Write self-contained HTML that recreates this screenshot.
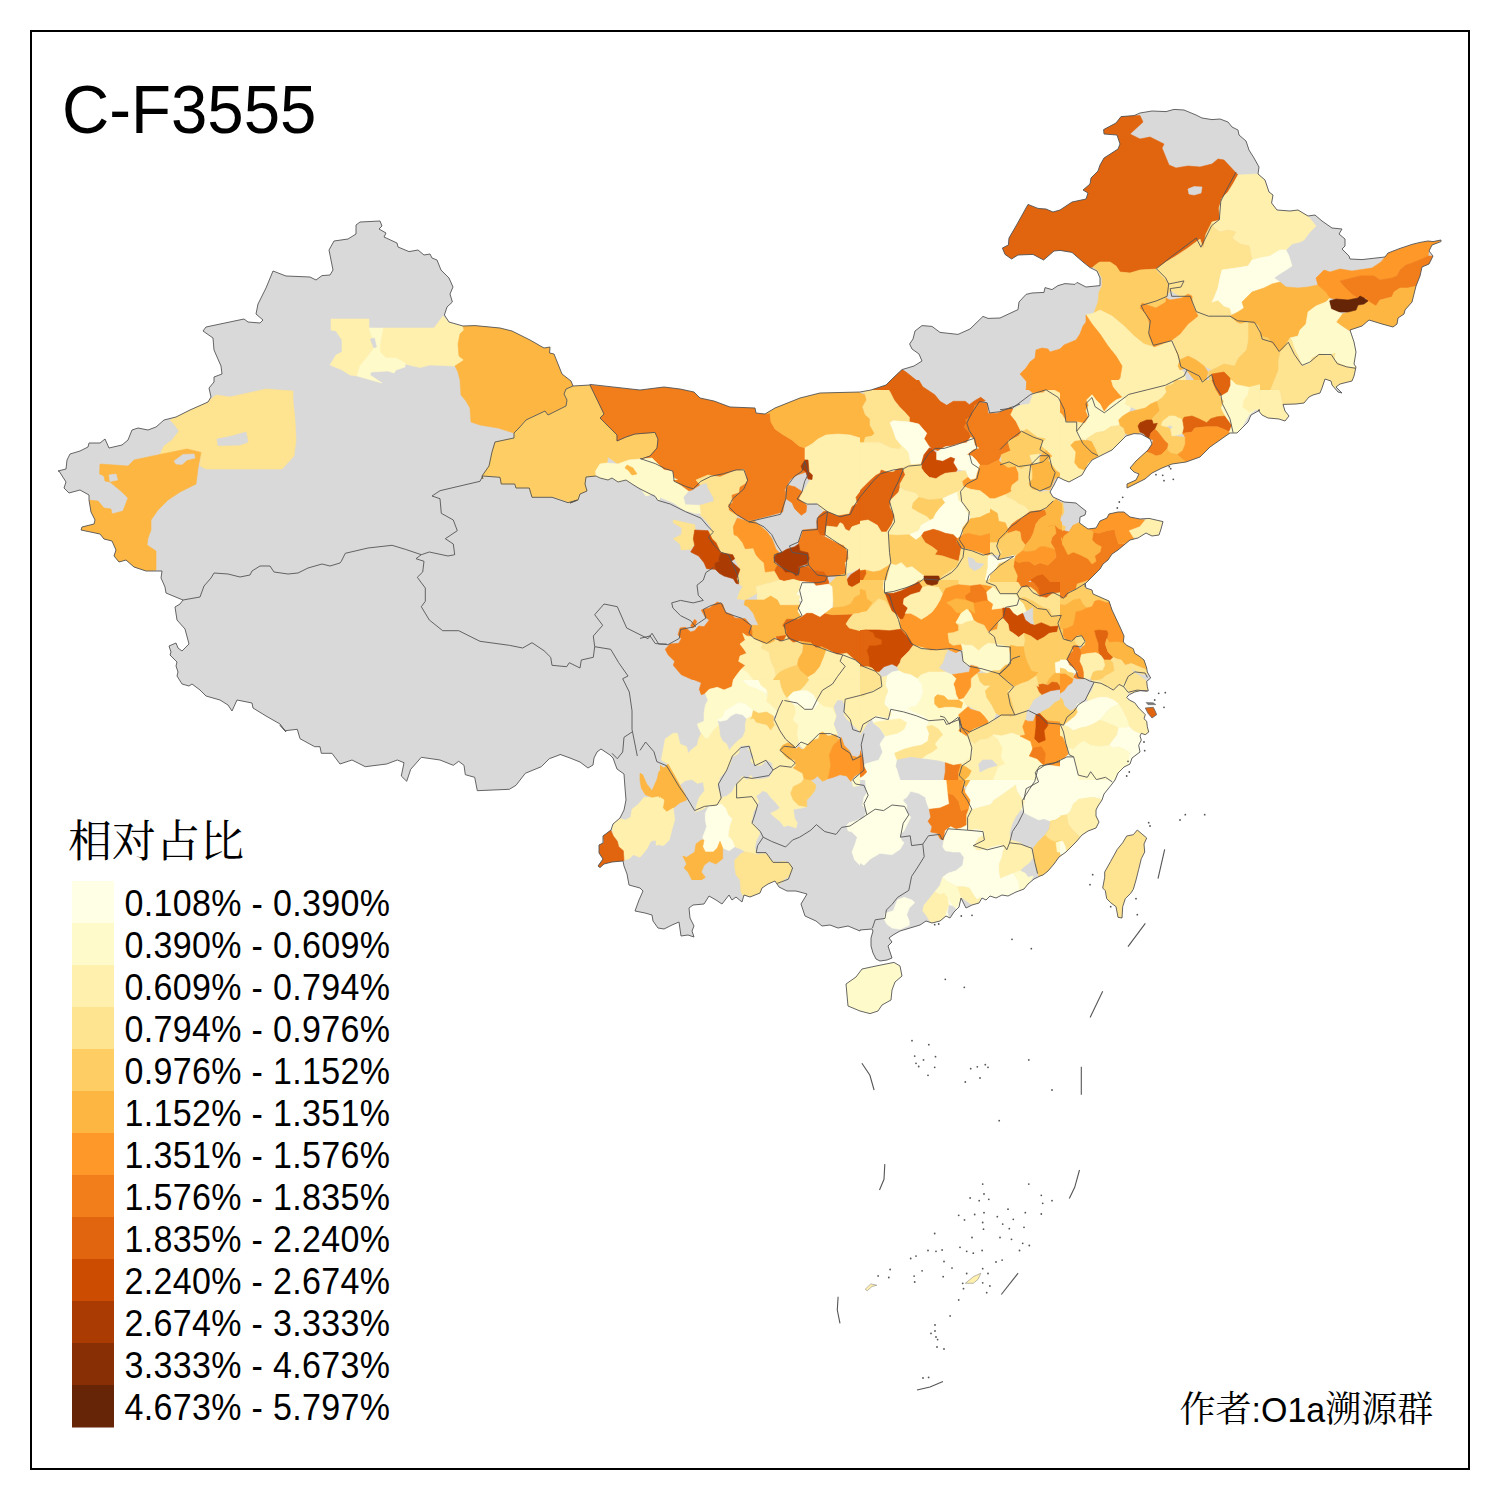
<!DOCTYPE html>
<html lang="zh"><head><meta charset="utf-8"><title>C-F3555</title>
<style>
html,body{margin:0;padding:0;background:#fff;}
body{width:1500px;height:1500px;overflow:hidden;position:relative;font-family:"Liberation Sans","Noto Sans CJK SC",sans-serif;}
svg{position:absolute;left:0;top:0;}
.t{position:absolute;white-space:nowrap;color:#000;line-height:1;}
.cj{font-family:"Noto Serif CJK SC","Liberation Serif",serif;}
</style></head><body>
<svg width="1500" height="1500" viewBox="0 0 1500 1500" shape-rendering="geometricPrecision">
<rect x="0" y="0" width="1500" height="1500" fill="#fff"/>
<defs><clipPath id="cn"><polygon points="58,471 66,469 67,460 70,454 80,451 88,447 89,443 100,443 105,439 109,448 122,445 128,440 132,430 138,428 148,430 156,427 164,420 176,417 190,410 208,402 211,397 209,388 214,382 214,377 222,374 221,366 214,350 213,338 203,331 206,327 244,319 248,322 260,323 263,320 256,314 258,304 266,288 273,271 286,276 310,277 316,280 322,275.6 330,275 333,270 329,250 334,241 348,239 356,234 356,225 360,222 380,221 382,226 379,229 386,233 384,237 397,243 398,247 409,251.6 418,250 424,255 430,254 432,258 437,260 441,270 449,278 453,287 450,294 452.4,302 447,307 444.4,315 449,322 463,326 475,325.6 500,328 512,331 530,340 544,348 550,347 549.6,353 554,354 562,374 571,381 573,386 590,385 590,384.4 640,390 664,387 680,389 694,392 700,398 714,401 730,407 755,408 756,413 765,414 775,408 800,398 820,393 860,392 871,390 886,385 893,378 902,369.6 914,366 922,361 919,354 912,349 909.6,344 913,339 915,331 922,325.6 932,326.4 940,332.4 958,334.4 970,329 983,316.4 988,318.4 1000,318 1018,309.6 1019,302 1026,294.4 1032,293 1044,292.4 1045,287.6 1052,289.6 1058,285.6 1065,283.6 1075,284.4 1077,282.4 1086,287 1100,285.6 1100,278 1097,271 1090,267.6 1083,262 1072,252.4 1060,250.4 1054,251 1043.6,260 1033,254.4 1018,255 1011.6,259 1005,254.4 1002.4,248 1008.4,245 1009,238 1016,226 1028,204.4 1038,208.4 1046,209 1053,212 1060,210 1072,202 1086,199 1088,193 1083,190 1090,184 1091,178 1098,171 1100,165 1104,158 1118,149 1120,144 1117,135 1104,134 1103.6,129.6 1116,123 1121,116.6 1134,115.6 1140,113 1152,111 1166,111.6 1174,109.4 1184,110 1196,115 1202,118 1212,119.6 1220,119 1228,122 1232,127 1238,130 1239,135 1246,141 1249,150 1254,158 1259,167 1258,174 1265,180 1269,192 1273,195 1271.6,203 1277,210 1290,211 1298,210 1308,216 1315,215 1322,221 1332,228 1342,229 1339,234 1345,239 1345,246 1342,249 1349,256 1350,259 1362,259.6 1376,258 1385,257 1388,253 1400,248.4 1412,244.4 1420,242.4 1428,241 1433,241.6 1441,240 1441,241.6 1432,245 1429,251 1433,256 1429,264 1422,267 1420,276 1416,286 1414,294 1412,302 1405,310 1404,314 1398,318 1397,324 1393,327 1382,324 1369,320 1362,326 1350,330 1354,342 1356,352 1354,364 1356,367 1354,376 1352,381 1340,384 1336,387 1342,393 1338,392 1332,385 1331,381 1325,379 1322,388 1320,393 1313,395 1309,397 1304,403 1296,404 1283,404.4 1285,411 1289,416 1285,421 1279,419 1268,418 1262,415 1258,410 1260,410 1251,415 1248,422 1237,433 1230,433 1220,440 1210,447 1200,457 1186,462 1172,464 1162,468 1152,473 1145,479 1139,482 1127,488 1127,484 1136,480 1139,474 1134,472 1130,468 1136,461 1148,450 1152,444 1150,439 1141,434 1134,433.6 1126,436 1118,444 1112,450 1100,456 1092,460 1086,468 1082,475 1069,482 1064,480 1058,477 1054,485 1050,492 1053,497 1064,502 1076,503 1082,508 1086,511 1085,515 1080,517 1079.6,523 1088,529 1096,528 1100,521 1107,518 1109,514 1118,512 1124,512 1130,517 1140,519 1149,518.4 1163,521.6 1161,529 1159,535 1152,536 1146,533 1138,538 1130,540 1124,545 1118,550 1112,554 1108,560 1103,564 1100,569 1094,575 1088,581 1085,584 1086,588 1092,590 1093,594 1109,601 1112,610 1120,627 1124,636 1123.3,642 1126.7,645.3 1133.3,648.7 1134.7,653.3 1140,656.7 1144,660 1146.7,668 1147.3,672 1150.7,678 1146.7,681.3 1147.3,686.7 1148.3,690.9 1140,690.7 1134.7,692 1129.3,694.7 1126.7,697.3 1129.3,700 1134.7,702.7 1138.7,708 1142.7,712 1145.3,714.7 1144,718.7 1146.7,721.3 1147.3,726.7 1148.7,732 1145.3,734.7 1141.3,733.3 1140,736 1141.3,740 1138.7,745.3 1140,752 1132,758 1130,764 1124,767 1118,773 1115,780 1112,784 1108,789 1104,794 1102,800 1098,806 1096,810 1096,816 1099,822 1096,828 1088,831 1082,835 1076,842 1072,846 1066,852 1059,857 1054,864 1048,871 1043,875 1040,876 1034,879 1028,884 1024,889 1016,892 1008,896 1002,895 996,898 990,896 986,900 982,898 979,903 972,905 966,908 963,902 961,898 959,907 954,912 950,918 946,916 940,921 932,923 926,921 920,925 910,928 900,931 893,935 889,938 892,942 888,946 890,952 892,958 887,960 880,961 876,959 873,953 871,946 871,938 873,931 872,929 860,930 860,931 848,926 838,928 830,925 822,926 816,921 805,916 801,904 807,894 796,891 787,891 779,887 775,881 768,884 762,888 760,893 750,897 744,895 742,902 736,897 732,900 729,895 722,904 716,900 709,896 704,904 693,905 689,908 690,918 694,926 692,931 694,937 688,935 681,936 679,922 672,925 664,929 658,928 653,921 652,915 645,913 635,911 639,900 643,891 640,888 629,885 627,874 624,866 623,861 612,862 604,864 600,867.6 598,866 603,859 599,853 599,845 603,843 603,836 611,830 613,824 620,818 624,810 626,800 625,788 624,774 617,769 613,758 610,755 601,749 597,752 594,758 593,765 588,768 580,762 570,758 560,754.4 560,754.7 549.3,758.7 541.3,766.7 525.3,773.3 516,785.3 509.3,789.3 477.3,790.7 474.7,777.3 465.3,774.7 464,765.3 458.7,761.3 453.3,765.3 440,760 421.3,757.3 410.7,769.3 406.7,781.3 401.3,776 404,762.7 397.3,760 386.7,764 365.3,766.7 352,760 340,764 332,753.3 321.3,753.3 320,746.7 314.7,746.7 300,738.7 297.3,729.3 285.3,730.7 280,725.3 286,732 280,724 266,716 253,708 252,703 237,700 232,711 228,705 220,700 206,696 200,690 192,684 189,686 182,684 177,676 178,672 176,666 177,662 170,655 171,652 169,646 176,643 178,648 182,651 189,644 185,629 177,620 175,607 180,604 183,600 178,598 166,593 165,587 161,578 162,571 146,571 134,567 126,560 119,562 114,556 116,550 112,541 104,539 100,534 81,530 82,527 94,524 95,520 91,512 89,500 89,495 80,490 69,493 64,488 66,482 59,471"/></clipPath></defs>
<polygon points="58,471 66,469 67,460 70,454 80,451 88,447 89,443 100,443 105,439 109,448 122,445 128,440 132,430 138,428 148,430 156,427 164,420 176,417 190,410 208,402 211,397 209,388 214,382 214,377 222,374 221,366 214,350 213,338 203,331 206,327 244,319 248,322 260,323 263,320 256,314 258,304 266,288 273,271 286,276 310,277 316,280 322,275.6 330,275 333,270 329,250 334,241 348,239 356,234 356,225 360,222 380,221 382,226 379,229 386,233 384,237 397,243 398,247 409,251.6 418,250 424,255 430,254 432,258 437,260 441,270 449,278 453,287 450,294 452.4,302 447,307 444.4,315 449,322 463,326 475,325.6 500,328 512,331 530,340 544,348 550,347 549.6,353 554,354 562,374 571,381 573,386 590,385 590,384.4 640,390 664,387 680,389 694,392 700,398 714,401 730,407 755,408 756,413 765,414 775,408 800,398 820,393 860,392 871,390 886,385 893,378 902,369.6 914,366 922,361 919,354 912,349 909.6,344 913,339 915,331 922,325.6 932,326.4 940,332.4 958,334.4 970,329 983,316.4 988,318.4 1000,318 1018,309.6 1019,302 1026,294.4 1032,293 1044,292.4 1045,287.6 1052,289.6 1058,285.6 1065,283.6 1075,284.4 1077,282.4 1086,287 1100,285.6 1100,278 1097,271 1090,267.6 1083,262 1072,252.4 1060,250.4 1054,251 1043.6,260 1033,254.4 1018,255 1011.6,259 1005,254.4 1002.4,248 1008.4,245 1009,238 1016,226 1028,204.4 1038,208.4 1046,209 1053,212 1060,210 1072,202 1086,199 1088,193 1083,190 1090,184 1091,178 1098,171 1100,165 1104,158 1118,149 1120,144 1117,135 1104,134 1103.6,129.6 1116,123 1121,116.6 1134,115.6 1140,113 1152,111 1166,111.6 1174,109.4 1184,110 1196,115 1202,118 1212,119.6 1220,119 1228,122 1232,127 1238,130 1239,135 1246,141 1249,150 1254,158 1259,167 1258,174 1265,180 1269,192 1273,195 1271.6,203 1277,210 1290,211 1298,210 1308,216 1315,215 1322,221 1332,228 1342,229 1339,234 1345,239 1345,246 1342,249 1349,256 1350,259 1362,259.6 1376,258 1385,257 1388,253 1400,248.4 1412,244.4 1420,242.4 1428,241 1433,241.6 1441,240 1441,241.6 1432,245 1429,251 1433,256 1429,264 1422,267 1420,276 1416,286 1414,294 1412,302 1405,310 1404,314 1398,318 1397,324 1393,327 1382,324 1369,320 1362,326 1350,330 1354,342 1356,352 1354,364 1356,367 1354,376 1352,381 1340,384 1336,387 1342,393 1338,392 1332,385 1331,381 1325,379 1322,388 1320,393 1313,395 1309,397 1304,403 1296,404 1283,404.4 1285,411 1289,416 1285,421 1279,419 1268,418 1262,415 1258,410 1260,410 1251,415 1248,422 1237,433 1230,433 1220,440 1210,447 1200,457 1186,462 1172,464 1162,468 1152,473 1145,479 1139,482 1127,488 1127,484 1136,480 1139,474 1134,472 1130,468 1136,461 1148,450 1152,444 1150,439 1141,434 1134,433.6 1126,436 1118,444 1112,450 1100,456 1092,460 1086,468 1082,475 1069,482 1064,480 1058,477 1054,485 1050,492 1053,497 1064,502 1076,503 1082,508 1086,511 1085,515 1080,517 1079.6,523 1088,529 1096,528 1100,521 1107,518 1109,514 1118,512 1124,512 1130,517 1140,519 1149,518.4 1163,521.6 1161,529 1159,535 1152,536 1146,533 1138,538 1130,540 1124,545 1118,550 1112,554 1108,560 1103,564 1100,569 1094,575 1088,581 1085,584 1086,588 1092,590 1093,594 1109,601 1112,610 1120,627 1124,636 1123.3,642 1126.7,645.3 1133.3,648.7 1134.7,653.3 1140,656.7 1144,660 1146.7,668 1147.3,672 1150.7,678 1146.7,681.3 1147.3,686.7 1148.3,690.9 1140,690.7 1134.7,692 1129.3,694.7 1126.7,697.3 1129.3,700 1134.7,702.7 1138.7,708 1142.7,712 1145.3,714.7 1144,718.7 1146.7,721.3 1147.3,726.7 1148.7,732 1145.3,734.7 1141.3,733.3 1140,736 1141.3,740 1138.7,745.3 1140,752 1132,758 1130,764 1124,767 1118,773 1115,780 1112,784 1108,789 1104,794 1102,800 1098,806 1096,810 1096,816 1099,822 1096,828 1088,831 1082,835 1076,842 1072,846 1066,852 1059,857 1054,864 1048,871 1043,875 1040,876 1034,879 1028,884 1024,889 1016,892 1008,896 1002,895 996,898 990,896 986,900 982,898 979,903 972,905 966,908 963,902 961,898 959,907 954,912 950,918 946,916 940,921 932,923 926,921 920,925 910,928 900,931 893,935 889,938 892,942 888,946 890,952 892,958 887,960 880,961 876,959 873,953 871,946 871,938 873,931 872,929 860,930 860,931 848,926 838,928 830,925 822,926 816,921 805,916 801,904 807,894 796,891 787,891 779,887 775,881 768,884 762,888 760,893 750,897 744,895 742,902 736,897 732,900 729,895 722,904 716,900 709,896 704,904 693,905 689,908 690,918 694,926 692,931 694,937 688,935 681,936 679,922 672,925 664,929 658,928 653,921 652,915 645,913 635,911 639,900 643,891 640,888 629,885 627,874 624,866 623,861 612,862 604,864 600,867.6 598,866 603,859 599,853 599,845 603,843 603,836 611,830 613,824 620,818 624,810 626,800 625,788 624,774 617,769 613,758 610,755 601,749 597,752 594,758 593,765 588,768 580,762 570,758 560,754.4 560,754.7 549.3,758.7 541.3,766.7 525.3,773.3 516,785.3 509.3,789.3 477.3,790.7 474.7,777.3 465.3,774.7 464,765.3 458.7,761.3 453.3,765.3 440,760 421.3,757.3 410.7,769.3 406.7,781.3 401.3,776 404,762.7 397.3,760 386.7,764 365.3,766.7 352,760 340,764 332,753.3 321.3,753.3 320,746.7 314.7,746.7 300,738.7 297.3,729.3 285.3,730.7 280,725.3 286,732 280,724 266,716 253,708 252,703 237,700 232,711 228,705 220,700 206,696 200,690 192,684 189,686 182,684 177,676 178,672 176,666 177,662 170,655 171,652 169,646 176,643 178,648 182,651 189,644 185,629 177,620 175,607 180,604 183,600 178,598 166,593 165,587 161,578 162,571 146,571 134,567 126,560 119,562 114,556 116,550 112,541 104,539 100,534 81,530 82,527 94,524 95,520 91,512 89,500 89,495 80,490 69,493 64,488 66,482 59,471" fill="#D9D9D9"/>
<g clip-path="url(#cn)">
<clipPath id="t0"><rect x="0" y="0" width="1500" height="1500"/></clipPath><g clip-path="url(#t0)">
<polygon points="170,420 210,400 216,395 230,397 266,389 293,391 293,400 295,420 296,440 294,456 282,469 206,469 200,466 201,452 187,449 176,452 160,454 164,446 172,440 179,431 174,424" fill="#FEE391" stroke="#FEE391" stroke-width="0.6"/>
<polygon points="217,439 232,436 246,432 248,442 240,445 218,445.6" fill="#D9D9D9" stroke="#D9D9D9" stroke-width="0.6"/>
<polygon points="100,464 128,466 134,460 160,454.4 187,449 201,452.4 198,468 196,484 180,492 168,500 158,510 151,520 151,530 148,538 147,545 156,551 156,570 146,572 134,568 126,561 119,563 113,556 115,550 112,542 104,540 100,535 80,531 81,526 94,524 95,520 91,512 88,500 98,501 104,508 111,509 112,514 123,511 128,498 122,492 110,482 105,481 104,476 99.6,474" fill="#FEB642" stroke="#FEB642" stroke-width="0.6"/>
<polygon points="109,475 116,474 117.6,480 110,481.6" fill="#D9D9D9" stroke="#D9D9D9" stroke-width="0.6"/>
<polygon points="174,461 183,454.4 194,454 195,458 187,460 182,464.4 176,464" fill="#D9D9D9" stroke="#D9D9D9" stroke-width="0.6"/>
<polygon points="331,319 369,319 369,329 373,340 374,348 368,356 364,362 360,366 357,376 350,375 342,370 330,365 336,355 342,352 342,340 336,331 331,330" fill="#FFF0AE" stroke="#FFF0AE" stroke-width="0.6"/>
<polygon points="383,328 434,328 443,316 449,322.4 463,326 464,330 460,334 458,344 459,356 464,360 455,366 430,365 420,367.6 405,364 396,358 386,358 380,352 380,344" fill="#FFF0AE" stroke="#FFF0AE" stroke-width="0.6"/>
<polygon points="369,328 383,328 380,344 380,352 386,358 396,358 405,363 405,367 396,370 394,373 388,371 371,372 370,375 382,383 357,376 360,366 368,356 374,348 377,347 373,340" fill="#FFFACA" stroke="#FFFACA" stroke-width="0.6"/>
<polygon points="370.4,339 374.4,338 376.4,347 373.6,347.6" fill="#D9D9D9" stroke="#D9D9D9" stroke-width="0.6"/>
<polygon points="463,326 475,325.6 500,328 512,331 530,340 544,348 550,347 549.6,353 554,354 562,374 571,381 573,386 566,389 564,394 567,400 566,406 548,415 545,411 526,420 519,428 514,433 498,428 480,425 471,422 470,408 466,401 461,395 460,380 458,372 455,366 464,360 459,356 458,344 460,334 464,330" fill="#FEB642" stroke="#FEB642" stroke-width="0.6"/>
<polygon points="573,386 590,384.4 604,414 600,418 617,435 617,441 626,437 635,434 655,432.4 658,439 657,448 650,456 641,459 629,460 618,464 608,457 607,463 600,464 595.6,471 596,476 586,477 585,484 587,491 580,494 578,500 570,503 560,499 552,497 532,497 529,488 516,488 514.7,484 501,484 500,477 482.7,476 483,479 482,476 489,466 492,452 495,442 514,438 514,433 519,428 526,420 545,411 548,415 566,406 567,400 564,394 566,389" fill="#FECE65" stroke="#FECE65" stroke-width="0.6"/>
</g>
<clipPath id="t1"><rect x="560" y="360" width="300" height="320"/></clipPath><g clip-path="url(#t1)">
<polygon points="590,385 640,390 664,387 680,389 694,392 700,398 714,401 730,407 755,408 756,413 765,414 770,413 771,422 775,429 782,434 792,440 799,446 805,448 805,459 802,468 806,472 797,475 790,480 786,490 785,500 782,512 770,516 760,519 750,521 738,517 730,510 729,505 732,503 731,497 741,490 747,482 746,474 744,469.6 734,471 720,477 708,475 698,479 696,480 699,485 692,490 681,482 674,478 672,471 664,470 652,458 641,459 650,456 657,448 658,439 655,432.4 635,434 626,437 617,441 617,435 600,418 604,414" fill="#F27E1B" stroke="#F27E1B" stroke-width="0.6"/>
<polygon points="765,414 775,408 800,398 820,393 860,392 860,438 850,435 838,434 826,435 818,439 812,444 805,448 799,446 792,440 782,434 775,429 771,422 770,413" fill="#FEB642" stroke="#FEB642" stroke-width="0.6"/>
<polygon points="805,448 812,444 818,439 826,435 838,434 850,435 860,438 860,492 800,499 803,492 807,482 810,478 812,475 808,472 807,460 805,459" fill="#FFF0AE" stroke="#FFF0AE" stroke-width="0.6"/>
<polygon points="801,466 805,460 808,460 809,472 812.4,475 812,479.6 808,479 806,472 802,469" fill="#AA3C03" stroke="#AA3C03" stroke-width="0.6"/>
<polygon points="696,480 708,475 720,477 734,471 744,469.6 747,482 741,490 731,497 732,503 729,505 730,510 700,516 712,500 714,496 707,493 708,488 704,483 699,485" fill="#FEE391" stroke="#FEE391" stroke-width="0.6"/>
<polygon points="595.6,471 600,464 607,463 618,464 629,460 641,459 652,458 664,470 672,471 674,478 681,482 692,490 686,492 684,498 686,504 700,505 702,509 700,514 688,510 678,504 672,500 658,500 654,494 646,496 640,488 632,484 626,480 618,482 612,478 608,480 600,478 596,476" fill="#FFFACA" stroke="#FFFACA" stroke-width="0.6"/>
<polygon points="627,465 633,468 637,474 632,475 628,470 625,468" fill="#FEB642" stroke="#FEB642" stroke-width="0.6"/>
</g>
<clipPath id="t2"><rect x="660" y="480" width="200" height="200"/></clipPath><g clip-path="url(#t2)">
<rect x="660" y="480" width="200" height="200" fill="#D9D9D9"/>
<polygon points="660,480 673.3,480 681.3,485.3 688.7,490.7 683.3,497.3 685.3,504.7 700,505.3 701.3,513.3 694.7,513.3 684,510 673.3,502.7 660,497.3" fill="#FFFACA" stroke="#FFFACA" stroke-width="0.6"/>
<polygon points="673.3,480 696,480 700,484.7 692,490 688.7,490.7 681.3,485.3" fill="#F27E1B" stroke="#F27E1B" stroke-width="0.6"/>
<polygon points="696,480 748,480 745.3,484 740,487.3 739.3,492.7 732,495.3 732.7,502.7 728.7,504.7 729.3,510 737.3,515.3 733.3,526.7 734,534.7 737.3,536 742.7,542.7 745.3,548.7 753.3,548 756,554.7 759.3,558.7 764,562.7 765.3,572 774.7,570.7 780,580 773.3,582 756,586.7 757.3,593.3 745.3,600 737.3,598.7 740,590.7 742.7,586.7 738,582.7 736.7,578.7 740,569.3 734.7,558.7 732.7,554.7 720.7,552.7 716,542.7 711.3,538.7 708,532 712,528.7 706.7,521.3 700,514.7 701.3,513.3 700,505.3 714,501.3 713.3,497.3 708,488 706.7,482.7 700,484.7" fill="#FEE391" stroke="#FEE391" stroke-width="0.6"/>
<polygon points="748,480 790,480 784.7,490 785.3,498.7 782.7,512 753.3,520 748,521.3 737.3,515.3 729.3,510 728.7,504.7 732.7,502.7 732,495.3 739.3,492.7 740,487.3 745.3,484" fill="#F27E1B" stroke="#F27E1B" stroke-width="0.6"/>
<polygon points="788,485.3 794.7,486.7 802.7,492 799.3,498.7 806.7,505.3 806,512 801.3,515.3 794.7,508.7 792,502.7 786,498.7 785.3,492" fill="#F27E1B" stroke="#F27E1B" stroke-width="0.6"/>
<polygon points="810,480 860,480 860,492 856,497.3 857.3,503.3 852,506.7 849.3,514 837.3,516 826.7,511.3 824,511.3 816,502.7 806.7,504 799.3,498.7 801.3,494.7" fill="#FFF0AE" stroke="#FFF0AE" stroke-width="0.6"/>
<polygon points="737.3,518 748,521.3 753.3,520 758.7,524.7 766.7,531.3 772,538.7 776,549.3 780,553.3 774.7,556 773.3,560 777.3,565.3 774.7,570.7 765.3,572 764,562.7 759.3,558.7 756,554.7 753.3,548 745.3,548.7 742.7,542.7 737.3,536 734,534.7 733.3,526.7" fill="#FE9929" stroke="#FE9929" stroke-width="0.6"/>
<polygon points="802.7,530 817.3,528.7 820,534.7 832,540 837.3,542.7 844,545.3 848,552 848.7,558.7 845.3,562.7 846.7,573.3 837.3,576 826.7,576 824,572 814.7,570.7 806.7,566.7 806.7,564 809.3,558.7 808,552.7 800,550.7 798.7,544 798.7,542 801.3,536" fill="#F27E1B" stroke="#F27E1B" stroke-width="0.6"/>
<polygon points="774.7,570.7 777.3,565.3 781.3,566.7 785.3,572 792,572 796,576 799.3,573.3 798.7,566.7 806.7,566.7 814.7,570.7 824,572 826.7,576 829.3,584 816,586 813.3,582.7 800,581.3 793.3,579.3 784,581.3 780,580" fill="#E1640E" stroke="#E1640E" stroke-width="0.6"/>
<polygon points="786.7,549.3 794.7,546.7 798.7,544 800,550.7 808,552.7 809.3,558.7 806.7,564 798.7,566.7 799.3,573.3 796,576 792,572 785.3,572 781.3,566.7 774.7,561.3 774,557.3 777.3,553.3 780,553.3" fill="#AA3C03" stroke="#AA3C03" stroke-width="0.6"/>
<polygon points="816.7,521.3 818.7,516 824,511.3 826.7,511.3 837.3,516 849.3,514 852,506.7 857.3,503.3 856,497.3 860,492 860,524 852,526.7 849.3,531.3 845.3,529.3 842.7,524 840,522.7 837.3,527.3 826.7,526 825.3,536 820,534.7 817.3,528.7" fill="#E1640E" stroke="#E1640E" stroke-width="0.6"/>
<polygon points="825.3,536 826.7,526 837.3,527.3 840,522.7 842.7,524 845.3,529.3 849.3,531.3 852,526.7 860,524 860,568 852,572 846.7,573.3 845.3,562.7 848.7,558.7 848,552 844,545.3 837.3,542.7 832,540" fill="#FFF0AE" stroke="#FFF0AE" stroke-width="0.6"/>
<polygon points="860,568.7 850.7,574.7 846.7,580 848,585.3 852,587.3 860,582.7" fill="#CC4C02" stroke="#CC4C02" stroke-width="0.6"/>
<polygon points="800,581.3 813.3,582.7 816,586 829.3,584 832.7,586.7 833.3,600 832,608 825.3,613.3 820,617.3 812,613.3 806.7,613.3 801.3,617.3 797.3,611.3 800,605.3 802.7,601.3 798.7,600 800,596 796,594.7 800,588" fill="#FFFFE5" stroke="#FFFFE5" stroke-width="0.6"/>
<polygon points="756,586.7 773.3,582 780,580 784,581.3 793.3,579.3 800,581.3 800,588 796,594.7 800,596 798.7,600 800,605.3 780,605.3 777.3,600 770.7,596 764,600 757.3,600 757.3,593.3" fill="#FFF0AE" stroke="#FFF0AE" stroke-width="0.6"/>
<polygon points="745.3,600 757.3,600 764,600 770.7,596 777.3,600 780,605.3 800,605.3 797.3,611.3 801.3,617.3 798.7,619.3 786.7,619.3 782.7,625.3 786.7,630.7 786,635.3 776,636.7 774.7,641.3 769.3,644 762.7,643.3 756,640 752,636.7 752,630.7 750.7,625.3 758.7,625.3 756,620 753.3,613.3 748,606.7 744,604.7" fill="#FEB642" stroke="#FEB642" stroke-width="0.6"/>
<polygon points="782.7,625.3 786.7,619.3 798.7,619.3 801.3,617.3 806.7,613.3 812,613.3 820,617.3 825.3,613.3 832,614.7 853.3,614 849.3,618.7 846,624 849.3,628 860,630.7 860,664 853.3,658.7 846.7,653.3 837.3,654.7 826.7,649.3 821.3,646.7 816,648 810.7,642.7 800,641.3 793.3,642.7 788,638.7 786,635.3 786.7,630.7" fill="#E1640E" stroke="#E1640E" stroke-width="0.6"/>
<polygon points="829.3,584 837.3,576 846.7,573.3 846.7,580 848,585.3 852,587.3 860,582.7 860,594.7 854.7,597.3 850.7,604 844,606.7 833.3,608 833.3,600 832.7,586.7" fill="#FECE65" stroke="#FECE65" stroke-width="0.6"/>
<polygon points="825.3,613.3 832,608 844,606.7 850.7,604 854.7,597.3 860,594.7 860,613.3 853.3,614 832,614.7" fill="#FEB642" stroke="#FEB642" stroke-width="0.6"/>
<polygon points="846,624 849.3,618.7 853.3,614 860,613.3 860,630.7 849.3,628" fill="#FEE391" stroke="#FEE391" stroke-width="0.6"/>
<polygon points="665.3,649.3 670,644 678.7,643.3 681.3,638.7 678,634.7 680,628 685.3,627.3 690.7,632 694.7,630.7 698.7,626 704,626.7 709.3,620 705.3,617.3 701.3,610 709.3,608 717.3,602 722.7,604 725.3,612 732,614.7 734.7,618 745.3,618.7 750.7,625.3 752,630.7 752,636.7 746.7,636 742.7,633.3 745.3,640 740,644 744,649.3 746.7,653.3 740,656 738.7,661.3 745.3,665.3 740,670.7 736,676 733.3,680 693.3,680 681.3,674.7 673.3,665.3 674.7,661.3 668,654.7" fill="#F27E1B" stroke="#F27E1B" stroke-width="0.6"/>
<polygon points="690.7,625.3 694.7,619.3 696.7,621.3 694.7,626.7 692,628" fill="#F27E1B" stroke="#F27E1B" stroke-width="0.6"/>
<polygon points="673.3,520 694.7,524.7 695.3,530 693.3,538.7 694.7,544 690.7,549.3 681.3,550 680,544 673.3,538.7 681.3,534.7 682,528 673.3,522.7" fill="#FEE391" stroke="#FEE391" stroke-width="0.6"/>
<polygon points="694.7,530 708,530.7 712,538.7 716,542.7 720.7,552.7 718.7,558.7 719.3,561.3 714.7,563.3 715.3,569.3 706.7,568.7 704,562.7 698.7,556 690.7,552 694.7,545.3 693.3,538.7" fill="#CC4C02" stroke="#CC4C02" stroke-width="0.6"/>
<polygon points="720.7,552.7 732.7,554.7 734.7,558.7 731.3,561.3 740,569.3 736.7,578.7 738.7,584 736,583.3 733.3,578.7 724,576 719.3,573.3 715.3,569.3 714.7,563.3 719.3,561.3 718.7,558.7" fill="#AA3C03" stroke="#AA3C03" stroke-width="0.6"/>
<polygon points="742.7,633.3 746.7,636 752,636.7 756,640 762.7,643.3 761.3,648 769.3,652 770.7,660 774.7,669.3 776,676 773.3,680 753.3,680 746.7,672 741.3,669.3 745.3,665.3 738.7,661.3 740,656 746.7,653.3 744,649.3 740,644 745.3,640" fill="#FFF0AE" stroke="#FFF0AE" stroke-width="0.6"/>
<polygon points="762.7,643.3 769.3,644 774.7,641.3 776,636.7 786,635.3 788,638.7 793.3,642.7 800,641.3 803.3,645.3 802.7,652 798.7,658.7 797.3,665.3 792,666.7 785.3,669.3 780,672 776,676 774.7,669.3 770.7,660 769.3,652 761.3,648" fill="#FEE391" stroke="#FEE391" stroke-width="0.6"/>
<polygon points="803.3,645.3 800,641.3 810.7,642.7 816,648 821.3,646.7 826.7,649.3 824,657.3 820,666.7 814.7,673.3 808,677.3 800,670.7 797.3,665.3 798.7,658.7 802.7,652" fill="#FEB642" stroke="#FEB642" stroke-width="0.6"/>
<polygon points="776,676 780,672 785.3,669.3 792,666.7 797.3,665.3 800,670.7 808,677.3 809.3,680 773.3,680" fill="#FECE65" stroke="#FECE65" stroke-width="0.6"/>
<polygon points="826.7,649.3 837.3,654.7 846.7,653.3 853.3,658.7 860,664 860,680 809.3,680 808,677.3 814.7,673.3 820,666.7 824,657.3" fill="#FFF0AE" stroke="#FFF0AE" stroke-width="0.6"/>
<polygon points="733.3,680 736,676 740,670.7 741.3,669.3 746.7,672 753.3,680" fill="#FFFACA" stroke="#FFFACA" stroke-width="0.6"/>
<polygon points="776,636.7 786,635.3 784,639.3 780,641.3 777.3,639.3" fill="#E1640E" stroke="#E1640E" stroke-width="0.6"/>
</g>
<clipPath id="t3"><rect x="860" y="380" width="200" height="200"/></clipPath><g clip-path="url(#t3)">
<rect x="860" y="380" width="200" height="200" fill="#D9D9D9"/>
<polygon points="860,393.3 865.3,394.7 866.7,400 862.7,406.7 865.3,414.7 870,418.7 870,425.3 874.7,433.3 872,436 865.3,437.3 864,442.7 860,442.7" fill="#FEB642" stroke="#FEB642" stroke-width="0.6"/>
<polygon points="860,388 886.7,380 890.7,392 894.7,400 900,406.7 905.3,412 910,417.3 910,422 900,421.3 893.3,420.7 890,422.7 893.3,430.7 896,438.7 901.3,445.3 900,449.3 890.7,448 880,442.7 864,442.7 865.3,437.3 872,436 874.7,433.3 870,425.3 870,418.7 865.3,414.7 862.7,406.7 866.7,400 865.3,394.7" fill="#FEE391" stroke="#FEE391" stroke-width="0.6"/>
<polygon points="886.7,386 886.7,380 918.7,380 922.7,386.7 934.7,394.7 940,401.3 946.7,405.3 953.3,401.3 965.3,401.3 969.3,404.7 974.7,400.7 980.7,397.3 985.3,400.7 980,402.7 974.7,405.3 972,416 965.3,420 966.7,422.7 964,427.3 969.3,432.7 970.7,437.3 966.7,442.7 958.7,444 952,446 945.3,446.7 938.7,450.7 932,448.7 926.7,442.7 924,438.7 926.7,433.3 918.7,424 910,422 910,417.3 905.3,412 900,406.7 894.7,400 890.7,392" fill="#E1640E" stroke="#E1640E" stroke-width="0.6"/>
<polygon points="1026.7,380 1060,380 1060,393.3 1052,388.7 1045.3,390 1044,392.7 1033.3,393.3 1026.7,388" fill="#FE9929" stroke="#FE9929" stroke-width="0.6"/>
<polygon points="980,402.7 987.3,403.3 988,413.3 997.3,413.3 1010.7,407.3 1013.3,409.3 1010.7,414.7 1016,421.3 1021.3,432 1018.7,436 1008,441.3 1009.3,446.7 1010.7,450.7 1001.3,454.7 998.7,460 988,465.3 980,465.3 976,460 972,456 966.7,454.7 973.3,449.3 978.7,448 974.7,445.3 973.3,438.7 970.7,437.3 969.3,432.7 964,427.3 966.7,422.7 965.3,420 972,416 974.7,405.3" fill="#F27E1B" stroke="#F27E1B" stroke-width="0.6"/>
<polygon points="1013.3,409.3 1020,405.3 1029.3,404 1032,397.3 1033.3,393.3 1044,392.7 1045.3,390 1052,388.7 1060,393.3 1060,473.3 1056,470.7 1052,465.3 1048,460 1052,456 1046.7,450.7 1040,445.3 1045.3,438.7 1037.3,437.3 1026.7,429.3 1021.3,432 1016,421.3 1010.7,414.7" fill="#FFF0AE" stroke="#FFF0AE" stroke-width="0.6"/>
<polygon points="1021.3,432 1026.7,429.3 1037.3,437.3 1045.3,438.7 1040,445.3 1046.7,450.7 1042.7,452.7 1037.3,454.7 1029.3,456 1032,462.7 1030.7,465.3 1025.3,466.7 1021.3,469.3 1016,466.7 1008,468 1001.3,463.3 1001.3,454.7 1010.7,450.7 1009.3,446.7 1008,441.3 1018.7,436" fill="#FECE65" stroke="#FECE65" stroke-width="0.6"/>
<polygon points="1042.7,452.7 1046.7,450.7 1052,456 1048,460 1052,465.3 1056,470.7 1060,473.3 1060,476 1054.7,478.7 1052,485.3 1049.3,490.7 1040,492 1032,489.3 1028,484 1032,478.7 1032,472 1030.7,465.3 1032,462.7 1038.7,464 1040,457.3" fill="#FEB642" stroke="#FEB642" stroke-width="0.6"/>
<polygon points="1030,455.3 1038.7,454 1039.3,462.7 1033.3,464" fill="#FFF0AE" stroke="#FFF0AE" stroke-width="0.6"/>
<polygon points="890,422.7 893.3,420.7 900,421.3 910,422 918.7,424 926.7,433.3 924,438.7 926.7,442.7 929.3,448 924,454.7 921.3,464 910.7,464.7 909.3,458.7 908,452 901.3,445.3 896,438.7 893.3,430.7" fill="#FFFFE5" stroke="#FFFFE5" stroke-width="0.6"/>
<polygon points="938.7,450.7 945.3,446.7 952,446 958.7,444 966.7,442.7 970.7,437.3 973.3,438.7 974.7,445.3 978.7,448 973.3,449.3 966.7,454.7 972,456 976,460 980,465.3 977.3,473.3 976,478.7 970.7,480 968,477.3 965.3,470.7 957.3,469.3 953.3,462.7 954.7,458.7 950.7,457.3 942.7,461.3 936,460 936,452.7" fill="#FFFFE5" stroke="#FFFFE5" stroke-width="0.6"/>
<polygon points="929.3,448 932,448.7 936,452.7 936,460 942.7,461.3 950.7,457.3 954.7,458.7 953.3,462.7 957.3,469.3 956,472 945.3,473.3 940,476 936,478.7 929.3,477.3 924,472 921.3,468 921.3,464 924,454.7" fill="#CC4C02" stroke="#CC4C02" stroke-width="0.6"/>
<polygon points="860,442.7 880,442.7 890.7,448 900,449.3 901.3,445.3 908,452 909.3,458.7 910.7,464.7 904,466.7 902.7,468 897.3,469.3 893.3,472 886.7,472 881.3,470 880,473.3 876,475.3 870.7,480 865.3,485.3 860,490.7" fill="#FFF0AE" stroke="#FFF0AE" stroke-width="0.6"/>
<polygon points="860,490.7 865.3,485.3 870.7,480 876,475.3 880,473.3 881.3,470 886.7,472 893.3,472 897.3,469.3 902.7,468 905.3,474.7 900,484 898.7,492 890.7,500 890,506.7 894.7,516 892,524 886.7,532 881.3,532 877.3,525.3 868,520 860,521.3" fill="#E1640E" stroke="#E1640E" stroke-width="0.6"/>
<polygon points="910.7,464.7 921.3,464 921.3,468 924,472 929.3,477.3 936,478.7 940,476 945.3,473.3 956,472 965.3,470.7 968,477.3 962.7,481.3 964,486.7 957.3,492 948,496 942.7,498.7 929.3,500 918.7,497.3 916,493.3 905.3,490.7 900,488 900,484 905.3,474.7 902.7,468 904,466.7" fill="#FEE391" stroke="#FEE391" stroke-width="0.6"/>
<polygon points="900,488 905.3,490.7 916,493.3 918.7,497.3 913.3,502.7 912,508 918.7,512 926.7,516 930.7,520 921.3,525.3 918.7,530.7 909.3,534.7 897.3,535.3 888.7,534.7 886.7,532 892,524 894.7,516 890,506.7 890.7,500 898.7,492" fill="#FFF0AE" stroke="#FFF0AE" stroke-width="0.6"/>
<polygon points="918.7,497.3 929.3,500 942.7,498.7 945.3,502.7 940,508 936,513.3 933.3,518.7 930.7,520 926.7,516 918.7,512 912,508 913.3,502.7" fill="#FECE65" stroke="#FECE65" stroke-width="0.6"/>
<polygon points="942.7,498.7 948,496 957.3,492 958.7,500 964,504 966.7,510.7 970.7,516 966.7,522.7 962.7,528 962.7,534.7 957.3,538.7 953.3,534.7 945.3,533.3 938.7,530.7 933.3,529.3 924,532 921.3,536 916,540 910.7,536 909.3,534.7 918.7,530.7 921.3,525.3 930.7,520 933.3,518.7 936,513.3 940,508 945.3,502.7" fill="#FFFFE5" stroke="#FFFFE5" stroke-width="0.6"/>
<polygon points="980,465.3 988,465.3 998.7,460 1001.3,463.3 1008,468 1016,466.7 1018.7,473.3 1018.7,480 1012,485.3 1010.7,490.7 1005.3,496 998.7,498.7 990.7,499.3 985.3,494.7 980,490.7 970.7,489.3 964,486.7 962.7,481.3 968,477.3 970.7,480 976,478.7 977.3,473.3" fill="#FE9929" stroke="#FE9929" stroke-width="0.6"/>
<polygon points="1016,466.7 1021.3,469.3 1025.3,466.7 1030.7,465.3 1032,472 1032,478.7 1028,484 1032,489.3 1040,492 1049.3,490.7 1052,494.7 1057.3,498.7 1060,500 1048,508 1044,510.7 1030.7,512 1024,517.3 1018.7,521.3 1013.3,513.3 1006.7,504 998.7,498.7 1005.3,496 1010.7,490.7 1012,485.3 1018.7,480 1018.7,473.3" fill="#FEE391" stroke="#FEE391" stroke-width="0.6"/>
<polygon points="964,486.7 970.7,489.3 980,490.7 985.3,494.7 990.7,499.3 998.7,498.7 1000,505.3 994.7,512 988,513.3 980,517.3 970.7,518.7 970.7,516 966.7,510.7 964,504 958.7,500 957.3,492" fill="#FFF0AE" stroke="#FFF0AE" stroke-width="0.6"/>
<polygon points="998.7,498.7 1006.7,504 1013.3,513.3 1018.7,521.3 1012,526.7 1008,528 1000,521.3 994.7,512 1000,505.3" fill="#FFF0AE" stroke="#FFF0AE" stroke-width="0.6"/>
<polygon points="970.7,518.7 980,517.3 988,513.3 994.7,512 1000,521.3 1008,528 1002.7,533.3 990.7,533.3 980,536 968,533.3 962.7,534.7 962.7,528 966.7,522.7" fill="#FEB642" stroke="#FEB642" stroke-width="0.6"/>
<polygon points="962.7,534.7 968,533.3 980,536 990.7,533.3 1002.7,533.3 998.7,540 996,545.3 1000,550.7 1000,554.7 993.3,553.3 988,556 977.3,552 966.7,549.3 961.3,548 956,541.3 957.3,538.7" fill="#FE9929" stroke="#FE9929" stroke-width="0.6"/>
<polygon points="1044,510.7 1048,508 1060,500 1060,580 1013.3,580 1010.7,558.7 1017.3,553.3 1024,546.7 1026.7,540 1032,533.3 1034.7,525.3 1038.7,518.7" fill="#FE9929" stroke="#FE9929" stroke-width="0.6"/>
<polygon points="1018.7,521.3 1024,517.3 1030.7,512 1044,510.7 1038.7,518.7 1034.7,525.3 1032,533.3 1026.7,540 1024,546.7 1021.3,540 1021.3,532 1012,526.7" fill="#F27E1B" stroke="#F27E1B" stroke-width="0.6"/>
<polygon points="1008,528 1012,526.7 1021.3,532 1021.3,540 1024,546.7 1017.3,553.3 1010.7,558.7 1001.3,561.3 1000,554.7 1000,550.7 996,545.3 998.7,540 1002.7,533.3" fill="#FECE65" stroke="#FECE65" stroke-width="0.6"/>
<polygon points="924,532 933.3,529.3 938.7,530.7 945.3,533.3 953.3,534.7 957.3,538.7 956,541.3 961.3,548 960,554.7 958.7,561.3 950.7,558.7 942.7,556 934.7,554.7 937.3,550.7 932,546.7 925.3,542.7 922.7,538.7 921.3,536" fill="#E1640E" stroke="#E1640E" stroke-width="0.6"/>
<polygon points="888.7,534.7 897.3,535.3 909.3,534.7 910.7,536 916,540 921.3,536 922.7,538.7 925.3,542.7 932,546.7 937.3,550.7 934.7,554.7 942.7,556 950.7,558.7 958.7,561.3 957.3,566.7 950.7,570.7 942.7,576 940,580 924,580 924,576 918.7,572 912,566.7 906.7,568 901.3,562.7 896,565.3 890.7,564 889.3,553.3 888.7,544" fill="#FECE65" stroke="#FECE65" stroke-width="0.6"/>
<polygon points="860,521.3 868,520 877.3,525.3 881.3,532 886.7,532 888.7,534.7 888.7,544 889.3,553.3 890.7,564 886.7,566.7 880,570.7 873.3,572 865.3,570 860,572" fill="#FFF0AE" stroke="#FFF0AE" stroke-width="0.6"/>
<polygon points="865.3,570 873.3,572 880,570.7 886.7,566.7 890.7,564 886.7,580 860,580 860,572" fill="#FEB642" stroke="#FEB642" stroke-width="0.6"/>
<polygon points="860,570.7 865.3,570 866,573.3 862.7,580 860,580" fill="#E1640E" stroke="#E1640E" stroke-width="0.6"/>
<polygon points="890.7,564 896,565.3 901.3,562.7 906.7,568 912,566.7 918.7,572 924,576 924,580 886.7,580" fill="#FFFACA" stroke="#FFFACA" stroke-width="0.6"/>
<polygon points="958.7,561.3 960,554.7 961.3,548 966.7,549.3 977.3,552 988,556 993.3,553.3 1000,554.7 1001.3,561.3 998.7,566.7 993.3,572 988,580 940,580 942.7,576 950.7,570.7 957.3,566.7" fill="#FEE391" stroke="#FEE391" stroke-width="0.6"/>
<polygon points="968,557.3 973.3,558.7 976,562.7 984,564 980,568 974.7,570.7 969.3,566.7" fill="#D9D9D9" stroke="#D9D9D9" stroke-width="0.6"/>
<polygon points="1001.3,561.3 1010.7,558.7 1013.3,580 988,580 993.3,572 998.7,566.7" fill="#FECE65" stroke="#FECE65" stroke-width="0.6"/>
<polygon points="988,556 993.3,553.3 1000,554.7 998.7,559.3 1013.3,555.3 1014.7,557.3 1000,566.7 988,580 985.3,580 988,566.7" fill="#FFFFE5" stroke="#FFFFE5" stroke-width="0.6"/>
<polygon points="924,576 938.7,576 940,580 924,580" fill="#882F05" stroke="#882F05" stroke-width="0.6"/>
</g>
<clipPath id="t4"><rect x="840" y="90" width="660" height="300"/></clipPath><g clip-path="url(#t4)">
<polygon points="1028,204.4 1038,208.4 1046,209 1053,212 1060,210 1072,202 1086,199 1088,193 1083,190 1090,184 1091,178 1098,171 1100,165 1104,158 1118,149 1120,144 1117,135 1104,134 1103.6,129.6 1116,123 1121,116 1140,115.6 1143,122 1130,134 1140,139 1150,137 1164,144 1162,148 1169,165 1176,168 1188,166 1200,167 1212,164 1218,159 1224,160 1238,175 1233,184 1228,192 1222,198 1219,208 1220,220 1212,222 1206,234 1203,248 1200,239 1188,248 1176,256 1166,262 1156,269 1140,270 1130,273 1120,272 1116,266 1110,262 1100,262 1098,263 1093,267 1090,267.6 1083,262 1072,252.4 1060,250.4 1054,251 1043.6,260 1033,254.4 1018,255 1011.6,259 1005,254.4 1001,248 1007,245 1008,238 1016,226" fill="#E1640E" stroke="#E1640E" stroke-width="0.6"/>
<polygon points="1188,189 1194,186.6 1202,187 1201,193 1194,195 1189,194" fill="#D9D9D9" stroke="#D9D9D9" stroke-width="0.6"/>
<polygon points="1093,267 1098,263 1100,262 1110,262 1116,266 1120,272 1130,273 1140,270 1156,269 1160,274 1168,282 1170,290 1166,298 1166,302 1156,308 1150,306 1142,303 1140,308 1146,314 1150,324 1149,336 1154,347 1144,344 1134,336 1124,326 1112,316 1100,310 1094,313 1098,302 1099,292 1102,286 1102,278 1098,271" fill="#FECE65" stroke="#FECE65" stroke-width="0.6"/>
<polygon points="1086,315 1094,313 1100,310 1112,316 1124,326 1134,336 1144,344 1154,347 1172,340 1176,350 1180,362 1178,368 1184,372 1186,380 1180,384 1170,386 1156,388 1146,390 1110,390 1120,378 1122,366 1116,356 1108,346 1100,334 1092,324" fill="#FFF0AE" stroke="#FFF0AE" stroke-width="0.6"/>
<polygon points="1020,374 1026,368 1030,362 1035,358 1036,350 1042,348 1048,349 1050,352 1060,349 1064,345 1076,340 1080,334 1083,326 1086,322 1086,315 1092,324 1100,334 1108,346 1116,356 1122,366 1120,378 1110,390 1026,390 1027,382" fill="#FE9929" stroke="#FE9929" stroke-width="0.6"/>
<polygon points="893,378 902,369.6 906,372 916,380 922,390 871,390 886,385" fill="#E1640E" stroke="#E1640E" stroke-width="0.6"/>
<polygon points="1238,175 1258,174 1265,180 1269,192 1273,195 1271.6,203 1277,210 1290,211 1298,210 1308,216 1316,226 1310,232 1304,240 1300,242 1292,244 1286,250 1280,250 1270,256 1260,258 1252,260 1250,250 1249,246 1240,244 1232,238 1236,232 1228,230 1220,232 1214,228 1212,222 1220,220 1219,208 1222,198 1228,192 1233,184" fill="#FFF0AE" stroke="#FFF0AE" stroke-width="0.6"/>
<polygon points="1203,248 1206,234 1212,222 1214,228 1220,232 1228,230 1236,232 1232,238 1240,244 1249,246 1250,250 1252,260 1248,266 1236,268 1222,270 1220,278 1218,288 1214,298 1212,302 1218,300 1224,306 1230,308 1232,315 1228,316 1214,315 1202,317 1194,308 1192,296 1188,294 1182,298 1170,290 1168,282 1160,274 1156,269 1166,262 1176,256 1188,248 1200,239" fill="#FEE391" stroke="#FEE391" stroke-width="0.6"/>
<polygon points="1252,260 1260,258 1270,256 1280,250 1286,250 1289,256 1292,266 1286,270 1278,275 1274,278 1280,282 1272,284 1264,288 1252,292 1246,298 1242,302 1244,308 1238,312 1232,315 1230,308 1224,306 1218,300 1212,302 1214,298 1218,288 1220,278 1222,270 1236,268 1248,266" fill="#FFFFE5" stroke="#FFFFE5" stroke-width="0.6"/>
<polygon points="1242,302 1246,298 1252,292 1264,288 1272,284 1280,282 1286,287 1298,288 1308,287 1318,285 1326,292 1330,298 1326,302 1316,306 1308,312 1306,324 1300,330 1298,336 1290,338 1284,348 1280,352 1272,344 1268,338 1260,336 1260,330 1258,325 1248,322 1240,324 1236,322 1230,316 1232,315 1238,312 1244,308" fill="#FEB642" stroke="#FEB642" stroke-width="0.6"/>
<polygon points="1316,278 1324,270 1330,272 1340,269 1352,271 1372,268 1381,262 1385,257 1388,253 1400,248.4 1412,244.4 1428,241 1442,239 1429,251 1428,256 1422,259 1412,263 1406,265 1400,270 1397,276 1392,278 1380,280 1374,276 1360,276 1352,278 1340,281 1344,286 1352,294 1358,298 1348,300 1336,299 1330,298 1326,292 1318,285" fill="#FE9929" stroke="#FE9929" stroke-width="0.6"/>
<polygon points="1340,281 1352,278 1360,276 1374,276 1380,280 1392,278 1397,276 1400,270 1406,265 1412,263 1422,259 1428,256 1435,256 1430,264 1423,267 1421,276 1417,286 1408,288 1400,288 1394,292 1392,297 1380,300 1376,306 1368,304 1366,298 1358,298 1352,294 1344,286" fill="#F27E1B" stroke="#F27E1B" stroke-width="0.6"/>
<polygon points="1358,305 1364,304 1368,301 1376,306 1380,300 1392,297 1394,292 1400,288 1408,288 1417,286 1415,294 1413,302 1406,310 1405,314 1399,318 1398,325 1393,328 1382,325 1369,321 1362,327 1350,331 1340,325 1336,322 1342,314 1348,312 1356,310" fill="#FEB642" stroke="#FEB642" stroke-width="0.6"/>
<polygon points="1329,301 1336,299 1348,300 1358,298 1360,296 1364,298 1368,301 1364,304 1358,305 1356,310 1348,312 1338,312 1331,309" fill="#662506" stroke="#662506" stroke-width="0.6"/>
<polygon points="1308,312 1316,306 1326,302 1330,298 1329,301 1331,309 1338,312 1342,314 1336,322 1340,325 1350,332 1355,342 1357,352 1356,364 1358,367 1350,368 1340,364 1334,360 1335,353 1328,356 1320,354 1312,358 1310,364 1302,366 1298,356 1294,348 1292,341 1290,338 1298,336 1300,330 1306,324" fill="#FFFACA" stroke="#FFFACA" stroke-width="0.6"/>
<polygon points="1280,352 1284,348 1290,338 1292,341 1294,348 1298,356 1302,366 1310,364 1312,358 1320,354 1328,356 1335,353 1334,360 1340,364 1350,368 1358,367 1356,376 1354,382 1340,384 1332,390 1270,390 1274,380 1278,370 1278,360" fill="#FEE391" stroke="#FEE391" stroke-width="0.6"/>
<polygon points="1248,322 1258,325 1260,330 1260,336 1268,338 1272,344 1280,352 1278,360 1278,370 1274,380 1270,390 1230,390 1232,378 1234,366 1238,358 1246,350 1248,340" fill="#FECE65" stroke="#FECE65" stroke-width="0.6"/>
<polygon points="1192,296 1194,308 1202,317 1214,315 1228,316 1230,316 1236,322 1240,324 1248,322 1248,340 1246,350 1238,358 1234,366 1224,364 1212,370 1204,366 1196,360 1188,356 1180,360 1176,350 1172,340 1180,334 1188,324 1198,316 1194,308 1192,302" fill="#FEE391" stroke="#FEE391" stroke-width="0.6"/>
<polygon points="1140,308 1142,303 1150,306 1156,308 1166,302 1166,298 1170,300 1182,298 1188,294 1192,296 1192,302 1194,308 1198,316 1188,324 1180,334 1172,340 1154,347 1149,336 1150,324 1146,314" fill="#FE9929" stroke="#FE9929" stroke-width="0.6"/>
<polygon points="1176,350 1180,360 1188,356 1196,360 1204,366 1208,372 1206,380 1202,386 1196,382 1188,372 1186,368 1180,370 1178,366 1180,360" fill="#FEB642" stroke="#FEB642" stroke-width="0.6"/>
<polygon points="1212,370 1224,364 1234,366 1232,378 1230,390 1212,390 1208,372" fill="#FECE65" stroke="#FECE65" stroke-width="0.6"/>
<polygon points="1212,374 1224,372 1230,378 1229,390 1214,390" fill="#E1640E" stroke="#E1640E" stroke-width="0.6"/>
</g>
<clipPath id="t5"><rect x="1060" y="380" width="200" height="200"/></clipPath><g clip-path="url(#t5)">
<rect x="1060" y="380" width="200" height="200" fill="#D9D9D9"/>
<polygon points="1060,412 1062.7,414.7 1066.7,421.3 1076,421.3 1085.3,422.7 1077.3,433.3 1080,437.3 1085.3,440 1092,441.3 1098.7,456 1093.3,462.7 1086.7,473.3 1078.7,481.3 1070.7,481.3 1068,485.3 1060,481.3" fill="#FFF0AE" stroke="#FFF0AE" stroke-width="0.6"/>
<polygon points="1060,380 1111.3,380 1113.3,386.7 1118.7,393.3 1122.7,397.3 1116,400 1109.3,405.3 1104,412 1100,404 1096,400 1092,394.7 1086.7,400 1088.7,405.3 1086,410.7 1088.7,417.3 1085.3,422.7 1076,421.3 1066.7,421.3 1062.7,414.7 1060,412" fill="#FE9929" stroke="#FE9929" stroke-width="0.6"/>
<polygon points="1074.7,441.3 1085.3,440 1092,441.3 1096,449.3 1098.7,456 1093.3,458.7 1088,462.7 1086,466.7 1086.7,470.7 1078.7,468 1074.7,462.7 1076,452 1070.7,445.3" fill="#FEB642" stroke="#FEB642" stroke-width="0.6"/>
<polygon points="1092,394.7 1096,400 1100,404 1104,412 1109.3,405.3 1116,400 1122.7,397.3 1126.7,398.7 1125.3,404 1130.7,406.7 1129.3,412 1122.7,416 1118.7,420 1120,425.3 1110.7,426.7 1104,431.3 1096,432.7 1086.7,438.7 1085.3,440 1080,437.3 1077.3,433.3 1085.3,422.7 1088.7,417.3 1086,410.7 1088.7,405.3 1086.7,400" fill="#FFFACA" stroke="#FFFACA" stroke-width="0.6"/>
<polygon points="1111.3,380 1174.7,380 1173.3,384 1166.7,386 1165.3,388 1166.7,392 1162.7,397.3 1157.3,401.3 1150.7,404 1145.3,408 1137.3,410 1130.7,406.7 1125.3,404 1126.7,398.7 1122.7,397.3 1118.7,393.3 1113.3,386.7" fill="#FFF0AE" stroke="#FFF0AE" stroke-width="0.6"/>
<polygon points="1086.7,438.7 1096,432.7 1104,431.3 1110.7,426.7 1120,425.3 1124,428 1125.3,433.3 1122.7,440 1117.3,444 1114.7,450.7 1106.7,454 1100,457.3 1098.7,456 1096,449.3 1092,441.3" fill="#FEE391" stroke="#FEE391" stroke-width="0.6"/>
<polygon points="1118.7,420 1122.7,416 1129.3,412 1137.3,410 1145.3,408 1150.7,404 1157.3,401.3 1160,410.7 1153.3,417.3 1152,420 1146.7,420 1140,422.7 1138,426 1140,432 1137.3,435.3 1128,434.7 1125.3,433.3 1124,428 1120,425.3" fill="#FEB642" stroke="#FEB642" stroke-width="0.6"/>
<polygon points="1157.3,401.3 1162.7,397.3 1166.7,392 1165.3,388 1166.7,386 1173.3,384 1174.7,380 1212,380 1216,389.3 1220,396 1224,401.3 1221.3,408 1225.3,416 1217.3,416.7 1210.7,418.7 1206.7,422.7 1198.7,418.7 1192,416 1184,417.3 1182.7,420 1174.7,416 1169.3,416 1162.7,421.3 1161.3,425.3 1166.7,426.7 1170.7,429.3 1172,436 1185.3,437.3 1185.3,444 1182.7,450.7 1177.3,454.7 1170.7,453.3 1166.7,449.3 1168,444 1164,440 1160,434.7 1157.3,431.3 1154.7,429.3 1157.3,423.3 1153.3,424 1152,420 1153.3,417.3 1160,410.7" fill="#FECE65" stroke="#FECE65" stroke-width="0.6"/>
<polygon points="1138,426 1140,422.7 1146.7,420 1152,420 1153.3,424 1157.3,423.3 1154.7,429.3 1150.7,433.3 1149.3,438.7 1146.7,437.3 1144,434 1140,432" fill="#AA3C03" stroke="#AA3C03" stroke-width="0.6"/>
<polygon points="1212,380 1230.7,380 1230.7,385.3 1228,392 1221.3,396 1220,396 1216,389.3" fill="#E1640E" stroke="#E1640E" stroke-width="0.6"/>
<polygon points="1162.7,421.3 1169.3,416 1174.7,416 1182.7,420 1184,428 1182.7,433.3 1178.7,434.7 1172,436 1170.7,429.3 1173.3,426.7 1169.3,425.3 1166.7,426.7 1161.3,425.3" fill="#FFF0AE" stroke="#FFF0AE" stroke-width="0.6"/>
<polygon points="1184,417.3 1192,416 1198.7,418.7 1206.7,422.7 1210.7,418.7 1217.3,416.7 1225.3,416 1232,425.3 1229.3,432 1224,429.3 1217.3,426.7 1206.7,426.7 1194.7,428 1192,432 1182.7,433.3 1184,428 1182.7,420" fill="#E1640E" stroke="#E1640E" stroke-width="0.6"/>
<polygon points="1182.7,433.3 1192,432 1194.7,428 1206.7,426.7 1217.3,426.7 1224,429.3 1229.3,432 1229.3,437.3 1221.3,441.3 1214.7,445.3 1208,450.7 1201.3,456 1197.3,462.7 1186.7,462.7 1180,457.3 1177.3,454.7 1182.7,450.7 1185.3,444 1185.3,437.3" fill="#FE9929" stroke="#FE9929" stroke-width="0.6"/>
<polygon points="1150.7,433.3 1154.7,429.3 1157.3,431.3 1160,434.7 1164,440 1168,444 1166.7,449.3 1161.3,454.7 1156,456 1150.7,453.3 1146.7,452 1146.7,448 1152,444 1153.3,440 1149.3,438.7" fill="#F27E1B" stroke="#F27E1B" stroke-width="0.6"/>
<polygon points="1145.3,452 1150.7,453.3 1156,456 1161.3,454.7 1166.7,449.3 1170.7,453.3 1177.3,454.7 1180,457.3 1186.7,462.7 1180,464 1170.7,466.7 1161.3,472 1153.3,477.3 1145.3,482.7 1137.3,486.7 1128,489.3 1125.3,482.7 1132,478.7 1138.7,476 1137.3,472 1130.7,470.7 1128,466.7 1134.7,460 1141.3,454.7" fill="#FEB642" stroke="#FEB642" stroke-width="0.6"/>
<polygon points="1220,396 1221.3,396 1228,392 1230.7,385.3 1230.7,380 1260,380 1260,410.7 1256,409.3 1249.3,414.7 1245.3,421.3 1238.7,433.3 1232,434.7 1229.3,432 1232,425.3 1225.3,416 1221.3,408 1224,401.3" fill="#FFFACA" stroke="#FFFACA" stroke-width="0.6"/>
<polygon points="1249.3,388 1260,384 1260,410.7 1256,409.3 1249.3,412 1242.7,406.7 1244,400 1248,394.7" fill="#FFF0AE" stroke="#FFF0AE" stroke-width="0.6"/>
<polygon points="1232,380 1260,380 1260,384 1249.3,386.7 1236,384" fill="#FECE65" stroke="#FECE65" stroke-width="0.6"/>
<polygon points="1060,500 1062.7,502.7 1064,512 1060,520" fill="#FECE65" stroke="#FECE65" stroke-width="0.6"/>
<polygon points="1060,524 1065.3,526.7 1064,532 1060,532" fill="#FECE65" stroke="#FECE65" stroke-width="0.6"/>
<polygon points="1093.3,532 1098.7,533.3 1106.7,530.7 1114.7,529.3 1116,536 1118.7,544 1129.3,544 1117.3,557.3 1110.7,561.3 1105.3,566.7 1098.7,572 1093.3,580 1060,580 1060,532 1064,530.7 1069.3,532 1073.3,525.3" fill="#F27E1B" stroke="#F27E1B" stroke-width="0.6"/>
<polygon points="1097.3,521.3 1108,513.3 1120,510 1126.7,512 1129.3,516 1136,518.7 1145.3,520 1140,526.7 1129.3,530.7 1133.3,536 1134.7,542.7 1118.7,544 1116,536 1114.7,529.3 1106.7,530.7 1098.7,533.3 1093.3,532 1086.7,528 1097.3,528" fill="#FE9929" stroke="#FE9929" stroke-width="0.6"/>
<polygon points="1145.3,520 1149.3,517.3 1156,520 1162.7,521.3 1161.3,526.7 1160,536 1153.3,537.3 1146.7,534.7 1140,537.3 1133.3,537.3 1129.3,530.7 1140,526.7" fill="#FFF0AE" stroke="#FFF0AE" stroke-width="0.6"/>
<polygon points="1073.3,525.3 1078.7,522.7 1086.7,528 1093.3,532 1092,540 1096,544 1101.3,546.7 1100,552 1094.7,556 1096,561.3 1092,564 1088,558.7 1080,554.7 1073.3,552 1068,554.7 1064,546.7 1061.3,542.7 1064,536 1069.3,532" fill="#FEB642" stroke="#FEB642" stroke-width="0.6"/>
</g>
<clipPath id="t6"><rect x="860" y="580" width="200" height="200"/></clipPath><g clip-path="url(#t6)">
<rect x="860" y="580" width="200" height="200" fill="#D9D9D9"/>
<polygon points="860,580 884,580 883.3,588 885.3,593.3 886.7,597.3 892,610.7 897.3,614.7 900,618.7 900.7,629.3 889.3,630.7 878.7,630 866.7,630 860,630.7" fill="#FECE65" stroke="#FECE65" stroke-width="0.6"/>
<polygon points="860,612 866.7,611.3 873.3,604 878.7,598.7 885.3,601.3 892,610.7 900,618.7 900.7,629.3 889.3,630.7 878.7,630 866.7,630 860,630.7" fill="#FEE391" stroke="#FEE391" stroke-width="0.6"/>
<polygon points="860,589.3 865.3,590.7 866.7,598.7 872,602.7 866.7,610.7 860,612" fill="#FEB642" stroke="#FEB642" stroke-width="0.6"/>
<polygon points="884,580 918.7,580 914.7,584 909.3,586.7 901.3,590.7 893.3,593.3 885.3,593.3 883.3,588" fill="#FFFACA" stroke="#FFFACA" stroke-width="0.6"/>
<polygon points="942.7,593.3 945.3,588 953.3,585.3 958.7,584 970.7,585.3 980,584 988,585.3 993.3,586.7 986.7,592 988,600 993.3,604 992,609.3 1002.7,608 1003.3,618.7 998.7,621.3 997.3,629.3 988,632 984,625.3 977.3,622.7 973.3,620 968,609.3 961.3,613.3 956,622.7 958.7,625.3 958.7,630.7 953.3,632.7 948,633.3 949.3,642.7 953.3,645.3 961.3,644 962.7,649.3 956,652.7 948,649.3 940,650 930.7,650.7 924,648 913.3,645.3 909.3,638.7 904,633.3 900.7,629.3 900,618.7 902.7,618.7 905.3,613.3 910.7,613.3 916,616 921.3,619.3 926.7,616 932,612 936,606.7 940,600" fill="#FE9929" stroke="#FE9929" stroke-width="0.6"/>
<polygon points="970.7,585.3 980,584 986.7,592 988,600 980,601.3 973.3,602.7 966.7,600 965.3,596 970.7,592" fill="#F27E1B" stroke="#F27E1B" stroke-width="0.6"/>
<polygon points="946.7,602.7 956,598.7 965.3,600 973.3,602.7 974.7,613.3 969.3,609.3 961.3,613.3 956,612 952,606.7" fill="#FEB642" stroke="#FEB642" stroke-width="0.6"/>
<polygon points="885.3,593.3 893.3,593.3 901.3,590.7 909.3,586.7 914.7,584 918.7,581.3 922.7,586.7 920,592 910.7,594.7 904,598.7 903.3,604 908,608 905.3,613.3 902.7,618.7 900,618.7 897.3,614.7 892,610.7 886.7,597.3" fill="#CC4C02" stroke="#CC4C02" stroke-width="0.6"/>
<polygon points="904,598.7 910.7,594.7 920,592 922.7,586.7 928,585.3 938.7,586.7 942.7,593.3 940,600 936,606.7 932,612 926.7,616 921.3,619.3 916,616 910.7,613.3 905.3,613.3 908,608 903.3,604" fill="#FFF0AE" stroke="#FFF0AE" stroke-width="0.6"/>
<polygon points="918.7,580 924,580 926.7,584 932,585.3 937.3,584 938.7,580 958.7,580 958.7,584 953.3,585.3 945.3,588 942.7,593.3 938.7,586.7 928,585.3 922.7,586.7 918.7,581.3" fill="#FECE65" stroke="#FECE65" stroke-width="0.6"/>
<polygon points="924,580 938.7,580 937.3,584 932,585.3 926.7,584" fill="#882F05" stroke="#882F05" stroke-width="0.6"/>
<polygon points="958.7,580 986.7,580 988,585.3 980,584 970.7,585.3 958.7,584" fill="#FEE391" stroke="#FEE391" stroke-width="0.6"/>
<polygon points="986.7,592 993.3,586.7 1000,593.3 1016,594 1018.7,598.7 1024,604 1026.7,610.7 1022.7,613.3 1017.3,616 1013.3,613.3 1009.3,608 1002.7,608 992,609.3 993.3,604 988,600" fill="#FFFACA" stroke="#FFFACA" stroke-width="0.6"/>
<polygon points="986.7,580 1017.3,580 1021.3,586.7 1021.3,592.7 1016,594 1000,593.3 993.3,586.7 988,585.3" fill="#FEE391" stroke="#FEE391" stroke-width="0.6"/>
<polygon points="1021.3,586.7 1030.7,586.7 1036,590.7 1040,596 1046.7,597.3 1052,593.3 1060,592 1060,616 1052,616 1049.3,609.3 1044,608 1037.3,604 1033.3,601.3 1024,597.3 1018.7,598.7 1016,594 1021.3,592.7" fill="#FEE391" stroke="#FEE391" stroke-width="0.6"/>
<polygon points="1017.3,580 1032,580 1038.7,588 1040,596 1036,590.7 1030.7,586.7 1021.3,586.7" fill="#F27E1B" stroke="#F27E1B" stroke-width="0.6"/>
<polygon points="1032,580 1060,580 1060,592 1052,593.3 1046.7,597.3 1040,596 1038.7,588" fill="#E1640E" stroke="#E1640E" stroke-width="0.6"/>
<polygon points="1024,597.3 1033.3,601.3 1037.3,604 1044,608 1049.3,609.3 1052,616 1060,616 1060,626.7 1050.7,626.7 1041.3,622.7 1034.7,625.3 1033.3,618.7 1033.3,606.7 1026.7,610.7 1024,604 1018.7,598.7" fill="#FECE65" stroke="#FECE65" stroke-width="0.6"/>
<polygon points="1002.7,608 1009.3,608 1013.3,613.3 1017.3,616 1022.7,613.3 1025.3,620 1030.7,624 1034.7,625.3 1041.3,622.7 1050.7,626.7 1058.7,626 1057.3,632 1049.3,633.3 1044,637.3 1037.3,640.7 1030.7,636 1024,633.3 1018.7,637.3 1013.3,633.3 1009.3,630.7 1008,624 1003.3,618.7" fill="#CC4C02" stroke="#CC4C02" stroke-width="0.6"/>
<polygon points="998.7,621.3 1003.3,618.7 1008,624 1009.3,630.7 1013.3,633.3 1018.7,637.3 1024,633.3 1025.3,640 1024,646.7 1017.3,646.7 1010.7,645.3 1009.3,648 1002.7,645.3 994.7,644 993.3,637.3 988,632 997.3,629.3" fill="#FEE391" stroke="#FEE391" stroke-width="0.6"/>
<polygon points="956,622.7 961.3,613.3 968,609.3 973.3,620 977.3,622.7 984,625.3 988,632 993.3,637.3 994.7,644 988,643.3 982.7,646.7 978.7,650.7 972,645.3 965.3,645.3 961.3,644 953.3,645.3 949.3,642.7 948,633.3 953.3,632.7 958.7,630.7 958.7,625.3" fill="#FEE391" stroke="#FEE391" stroke-width="0.6"/>
<polygon points="956,622.7 961.3,613.3 966.7,609.3 970.7,613.3 973.3,620 966.7,621.3 961.3,624" fill="#FFFACA" stroke="#FFFACA" stroke-width="0.6"/>
<polygon points="961.3,644 965.3,645.3 972,645.3 978.7,650.7 982.7,646.7 988,643.3 994.7,644 1002.7,645.3 1009.3,648 1010.7,656 1010.7,664 1005.3,665.3 1000,670.7 993.3,670.7 988,673.3 981.3,670.7 977.3,666.7 972,664 966.7,665.3 962.7,660 962.7,649.3" fill="#FFFACA" stroke="#FFFACA" stroke-width="0.6"/>
<polygon points="1010.7,645.3 1017.3,646.7 1024,646.7 1025.3,654.7 1028,662.7 1032,670.7 1038.7,672 1036,676 1028,681.3 1020,684 1014.7,686.7 1008,681.3 1002.7,678.7 998.7,674.7 1000,670.7 1005.3,665.3 1010.7,664 1010.7,656 1009.3,648" fill="#FEB642" stroke="#FEB642" stroke-width="0.6"/>
<polygon points="1024,633.3 1030.7,636 1037.3,640.7 1044,637.3 1049.3,633.3 1057.3,632 1058.7,626 1060,626.7 1060,673.3 1054.7,673.3 1049.3,678.7 1046.7,684 1038.7,686.7 1036,676 1038.7,672 1032,670.7 1028,662.7 1025.3,654.7 1024,646.7 1025.3,640" fill="#FECE65" stroke="#FECE65" stroke-width="0.6"/>
<polygon points="1055.3,662.7 1060,661.3 1060,674.7 1056,673.3" fill="#FFFFE5" stroke="#FFFFE5" stroke-width="0.6"/>
<polygon points="1046.7,684 1049.3,678.7 1054.7,673.3 1060,673.3 1060,686.7 1057.3,682.7 1052,682 1048,685.3" fill="#FEB642" stroke="#FEB642" stroke-width="0.6"/>
<polygon points="1036,685.3 1042.7,684 1048,685.3 1052,682 1057.3,682.7 1060,686.7 1060,689.3 1050.7,690.7 1041.3,694.7 1038.7,692" fill="#E1640E" stroke="#E1640E" stroke-width="0.6"/>
<polygon points="970.7,678.7 973.3,676 977.3,673.3 980,681.3 984,685.3 990.7,685.3 985.3,690.7 986.7,697.3 992,705.3 996,713.3 993.3,721.3 988,724 988,721.3 984,716 980,712 974.7,709.3 965.3,704 962.7,698.7 966.7,693.3 970.7,686.7" fill="#FFF0AE" stroke="#FFF0AE" stroke-width="0.6"/>
<polygon points="977.3,673.3 988,673.3 993.3,670.7 1000,670.7 998.7,674.7 1002.7,678.7 1008,681.3 1013.3,686.7 1008,690.7 1010.7,697.3 1013.3,705.3 1015.3,714.7 1010.7,717.3 1008,716 1001.3,716 996,713.3 992,705.3 986.7,697.3 985.3,690.7 990.7,685.3 984,685.3 980,681.3" fill="#FECE65" stroke="#FECE65" stroke-width="0.6"/>
<polygon points="1013.3,686.7 1014.7,686.7 1020,684 1028,681.3 1036,676 1038.7,686.7 1036,685.3 1038.7,692 1041.3,694.7 1033.3,700 1029.3,708 1026.7,710 1020,714.7 1015.3,714.7 1013.3,705.3 1010.7,697.3 1008,690.7" fill="#FEE391" stroke="#FEE391" stroke-width="0.6"/>
<polygon points="952,674.7 961.3,673.3 969.3,672 970.7,665.3 977.3,666.7 980,670.7 973.3,676 970.7,678.7 970.7,686.7 966.7,693.3 962.7,698.7 958.7,700 956,694.7 954.7,688 953.3,684 956,678.7" fill="#FE9929" stroke="#FE9929" stroke-width="0.6"/>
<polygon points="860,630.7 866.7,630 878.7,630 889.3,630.7 900.7,629.3 904,633.3 909.3,638.7 913.3,645.3 909.3,650.7 905.3,654.7 901.3,658.7 900,662.7 897.3,666.7 892,664 884,666.7 878.7,672 876,672 872,668 868,666.7 860,666.7" fill="#CC4C02" stroke="#CC4C02" stroke-width="0.6"/>
<polygon points="860,630.7 866.7,630 873.3,633.3 874.7,637.3 881.3,640 881.3,644 876,645.3 869.3,645.3 866.7,650.7 868.7,657.3 869.3,666.7 860,666.7" fill="#E1640E" stroke="#E1640E" stroke-width="0.6"/>
<polygon points="900,662.7 901.3,658.7 905.3,654.7 909.3,650.7 913.3,645.3 924,648 930.7,650.7 940,650 948,649.3 945.3,654.7 942.7,662.7 938.7,668 945.3,672 940,672 929.3,672 921.3,674.7 917.3,678.7 910.7,674.7 904,673.3 898.7,670.7 897.3,666.7" fill="#FEE391" stroke="#FEE391" stroke-width="0.6"/>
<polygon points="917.3,678.7 921.3,674.7 929.3,672 940,672 945.3,672 952,674.7 956,678.7 953.3,684 954.7,688 956,694.7 958.7,700 962.7,698.7 965.3,704 968,706.7 958.7,714.7 953.3,721.3 948,725.3 944,721.3 941.3,717.3 932,721.3 929.3,721.3 922.7,716 913.3,712 906.7,708 916,705.3 920,700 922.7,692 921.3,684" fill="#FFFACA" stroke="#FFFACA" stroke-width="0.6"/>
<polygon points="934.7,697.3 937.3,694.7 944,696 948,700 956,700 958.7,700 962.7,702.7 961.3,708 953.3,706.7 945.3,706.7 938.7,708 934.7,704" fill="#FEB642" stroke="#FEB642" stroke-width="0.6"/>
<polygon points="886.7,676 892,672 898.7,670.7 904,673.3 910.7,674.7 917.3,678.7 921.3,684 922.7,692 920,700 916,705.3 906.7,708 897.3,706.7 889.3,709.3 884,704 885.3,697.3 888,690.7 885.3,685.3" fill="#FFFFE5" stroke="#FFFFE5" stroke-width="0.6"/>
<polygon points="860,666.7 868,666.7 872,668 876,672 878.7,672 881.3,677.3 882,682.7 880,689.3 873.3,690.7 868,693.3 862.7,697.3 860,696" fill="#FEE391" stroke="#FEE391" stroke-width="0.6"/>
<polygon points="860,696 862.7,697.3 868,693.3 873.3,690.7 880,689.3 882,682.7 881.3,677.3 886.7,676 885.3,685.3 888,690.7 885.3,697.3 884,704 889.3,709.3 892,714.7 886.7,718.7 877.3,716 872,718.7 866.7,724 862.7,730.7 860,734.7" fill="#FFF0AE" stroke="#FFF0AE" stroke-width="0.6"/>
<polygon points="872,718.7 877.3,716 886.7,718.7 892,714.7 889.3,709.3 897.3,706.7 906.7,708 913.3,712 922.7,716 929.3,721.3 926.7,726.7 929.3,733.3 928,741.3 921.3,745.3 913.3,746.7 904,749.3 894.7,753.3 897.3,760 896,766.7 900,780 860,780 860,769.3 865.3,764 878.7,760 882.7,752 880,744 885.3,736 880,728 873.3,722.7" fill="#FFFFE5" stroke="#FFFFE5" stroke-width="0.6"/>
<polygon points="873.3,722.7 880,721.3 890.7,720 900,718.7 906.7,722.7 904,729.3 897.3,733.3 890.7,734.7 885.3,736 880,728" fill="#FFF0AE" stroke="#FFF0AE" stroke-width="0.6"/>
<polygon points="860,750.7 862.7,757.3 864,766.7 866.7,772 862.7,776 860,777.3" fill="#F27E1B" stroke="#F27E1B" stroke-width="0.6"/>
<polygon points="929.3,721.3 932,721.3 941.3,717.3 944,721.3 948,725.3 953.3,721.3 958.7,714.7 961.3,726.7 958.7,730.7 966.7,736 970.7,741.3 970.7,746.7 973.3,752 969.3,758.7 961.3,764 953.3,765.3 945.3,762.7 940,761.3 932,760 921.3,758.7 910.7,757.3 897.3,760 894.7,753.3 904,749.3 913.3,746.7 921.3,745.3 928,741.3 929.3,733.3 926.7,726.7" fill="#FFFACA" stroke="#FFFACA" stroke-width="0.6"/>
<polygon points="894.7,753.3 904,749.3 913.3,746.7 921.3,745.3 928,741.3 934.7,744 937.3,748 932,752 926.7,754.7 921.3,758.7 910.7,757.3 897.3,760" fill="#FEE391" stroke="#FEE391" stroke-width="0.6"/>
<polygon points="926.7,726.7 932,725.3 938.7,729.3 942.7,734.7 938.7,738.7 934.7,744 928,741.3 929.3,733.3" fill="#FEE391" stroke="#FEE391" stroke-width="0.6"/>
<polygon points="896,766.7 897.3,760 910.7,757.3 921.3,758.7 932,760 940,761.3 945.3,762.7 945.3,772 944,780 920,778.7 910.7,773.3 900,770.7" fill="#D9D9D9" stroke="#D9D9D9" stroke-width="0.6"/>
<polygon points="945.3,762.7 953.3,765.3 961.3,764 958.7,772 958.7,780 944,780 945.3,772" fill="#F27E1B" stroke="#F27E1B" stroke-width="0.6"/>
<polygon points="961.3,764 966.7,766.7 972,770.7 969.3,776 965.3,780 958.7,780 958.7,772" fill="#FEB642" stroke="#FEB642" stroke-width="0.6"/>
<polygon points="958.7,714.7 968,706.7 970.7,709.3 980,712 984,716 988,721.3 988,724 980,726.7 973.3,729.3 966.7,736 958.7,730.7 961.3,726.7" fill="#FE9929" stroke="#FE9929" stroke-width="0.6"/>
<polygon points="966.7,736 973.3,729.3 980,726.7 988,724 993.3,721.3 1001.3,716 1008,716 1010.7,717.3 1015.3,714.7 1020,714.7 1026.7,710 1025.3,720 1022.7,726.7 1025.3,734.7 1020,736 1012,733.3 1001.3,736 993.3,734.7 988,738.7 980,740 974.7,744 970.7,741.3" fill="#FEE391" stroke="#FEE391" stroke-width="0.6"/>
<polygon points="970.7,741.3 974.7,744 980,740 988,738.7 993.3,734.7 1001.3,736 1012,733.3 1020,736 1025.3,734.7 1030.7,741.3 1033.3,750.7 1037.3,758.7 1044,765.3 1038.7,769.3 1036,773.3 1037.3,780 965.3,780 969.3,776 972,770.7 966.7,766.7 961.3,764 969.3,758.7 973.3,752 970.7,746.7" fill="#FFF0AE" stroke="#FFF0AE" stroke-width="0.6"/>
<polygon points="993.3,734.7 1001.3,736 1012,733.3 1020,736 1025.3,734.7 1030.7,741.3 1033.3,750.7 1037.3,758.7 1044,765.3 1038.7,769.3 1036,773.3 1037.3,780 993.3,780 998.7,766.7 1005.3,764 1001.3,757.3 1002.7,748 998.7,740" fill="#FFFACA" stroke="#FFFACA" stroke-width="0.6"/>
<polygon points="978.7,764 982.7,760 992,760 997.3,765.3 988,768 980,772" fill="#D9D9D9" stroke="#D9D9D9" stroke-width="0.6"/>
<polygon points="1020,736 1025.3,734.7 1022.7,726.7 1025.3,720 1028,721.3 1033.3,721.3 1036,714.7 1040,714.7 1046.7,720 1060,721.3 1060,766.7 1049.3,765.3 1044,765.3 1037.3,758.7 1033.3,750.7 1030.7,741.3" fill="#FE9929" stroke="#FE9929" stroke-width="0.6"/>
<polygon points="1036,714.7 1040,713.3 1046.7,720 1048,725.3 1044,730.7 1045.3,740 1038.7,742.7 1034.7,738.7 1036,726.7" fill="#CC4C02" stroke="#CC4C02" stroke-width="0.6"/>
<polygon points="1029.3,756 1033.3,748 1041.3,746.7 1045.3,753.3 1044,765.3 1037.3,758.7" fill="#F27E1B" stroke="#F27E1B" stroke-width="0.6"/>
<polygon points="1036,773.3 1038.7,769.3 1044,765.3 1049.3,765.3 1060,766.7 1060,780 1037.3,780" fill="#FFFFE5" stroke="#FFFFE5" stroke-width="0.6"/>
<polygon points="1041.3,712 1049.3,708 1054.7,702.7 1060,700 1060,721.3 1046.7,720 1040,713.3" fill="#FECE65" stroke="#FECE65" stroke-width="0.6"/>
</g>
<clipPath id="t7"><rect x="1060" y="580" width="200" height="200"/></clipPath><g clip-path="url(#t7)">
<rect x="1060" y="580" width="200" height="200" fill="#D9D9D9"/>
<polygon points="1060,580 1089.3,580 1084,582.7 1077.3,584 1076,589.3 1069.3,592 1066.7,597.3 1061.3,598.7 1060,596" fill="#F27E1B" stroke="#F27E1B" stroke-width="0.6"/>
<polygon points="1089.3,580 1084,582.7 1085.3,588 1092,590.7 1098.7,596 1112,601.3 1106.7,602.7 1098.7,600 1094.7,601.3 1092,606.7 1086.7,608 1082.7,604 1080,598.7 1073.3,600 1069.3,602.7 1065.3,605.3 1060,604.7 1060,598.7 1061.3,598.7 1066.7,597.3 1069.3,592 1076,589.3 1077.3,584" fill="#FECE65" stroke="#FECE65" stroke-width="0.6"/>
<polygon points="1060,604.7 1065.3,605.3 1069.3,602.7 1073.3,600 1080,598.7 1082.7,604 1086.7,608 1081.3,610.7 1076,612 1074.7,620 1073.3,625.3 1068,628 1062.7,629.3 1060,629.3" fill="#FEB642" stroke="#FEB642" stroke-width="0.6"/>
<polygon points="1086.7,608 1092,606.7 1094.7,601.3 1098.7,600 1106.7,602.7 1112,601.3 1114.7,609.3 1120,620 1124,628 1126.7,636 1125.3,644 1116,642 1109.3,642.7 1106.7,638.7 1108,633.3 1106.7,630.7 1098.7,630 1094.7,630.7 1096,636 1098.7,644 1098.7,650.7 1100,654.7 1096,652.7 1089.3,653.3 1081.3,654.7 1080,649.3 1084,645.3 1085.3,641.3 1081.3,636 1077.3,636 1074.7,640 1066.7,641.3 1062.7,636 1062.7,629.3 1068,628 1073.3,625.3 1074.7,620 1076,612 1081.3,610.7" fill="#FE9929" stroke="#FE9929" stroke-width="0.6"/>
<polygon points="1094.7,630.7 1098.7,630 1106.7,630.7 1108,633.3 1106.7,638.7 1105.3,644 1108,652 1113.3,657.3 1110.7,660 1104,660 1101.3,656 1100,654.7 1098.7,650.7 1098.7,644 1096,636" fill="#E1640E" stroke="#E1640E" stroke-width="0.6"/>
<polygon points="1106.7,638.7 1109.3,642.7 1116,642 1122.7,642.7 1126.7,642.7 1136,646.7 1137.3,653.3 1146.7,660 1149.3,670.7 1140,668 1133.3,664 1129.3,664 1125.3,665.3 1121.3,660 1116,658.7 1113.3,657.3 1108,652 1105.3,644" fill="#FEB642" stroke="#FEB642" stroke-width="0.6"/>
<polygon points="1128,665.3 1130.7,663.3 1137.3,666 1145.3,669.3 1148.7,673.3 1142.7,674.7 1136,671.3 1130.7,668" fill="#FEE391" stroke="#FEE391" stroke-width="0.6"/>
<polygon points="1060,629.3 1062.7,629.3 1062.7,636 1066.7,641.3 1074.7,640 1077.3,636 1081.3,636 1085.3,641.3 1084,645.3 1077.3,645.3 1072,646.7 1073.3,650.7 1069.3,654.7 1066.7,660 1060,660" fill="#FECE65" stroke="#FECE65" stroke-width="0.6"/>
<polygon points="1074.7,640 1077.3,636 1081.3,636 1085.3,641.3 1084,645.3 1077.3,645.3" fill="#FEE391" stroke="#FEE391" stroke-width="0.6"/>
<polygon points="1072,646.7 1077.3,645.3 1080,649.3 1081.3,654.7 1080,661.3 1082.7,666.7 1084,672 1084,678.7 1077.3,678.7 1073.3,677.3 1077.3,672 1073.3,668 1069.3,665.3 1066.7,660 1069.3,654.7 1073.3,650.7" fill="#F27E1B" stroke="#F27E1B" stroke-width="0.6"/>
<polygon points="1081.3,654.7 1089.3,653.3 1096,652.7 1100,654.7 1101.3,656 1104,660 1105.3,665.3 1102.7,670.7 1097.3,670.7 1093.3,672 1090.7,678.7 1086.7,678.7 1084,678.7 1084,672 1082.7,666.7 1080,661.3" fill="#FFF0AE" stroke="#FFF0AE" stroke-width="0.6"/>
<polygon points="1104,660 1110.7,660 1113.3,662.7 1114.7,670.7 1110.7,673.3 1105.3,676 1102.7,678.7 1097.3,680.7 1092,680.7 1090.7,678.7 1093.3,672 1097.3,670.7 1102.7,670.7 1105.3,665.3" fill="#FECE65" stroke="#FECE65" stroke-width="0.6"/>
<polygon points="1110.7,660 1113.3,657.3 1116,658.7 1121.3,660 1125.3,665.3 1129.3,664 1133.3,672 1129.3,673.3 1126.7,678.7 1125.3,682.7 1121.3,685.3 1117.3,686.7 1113.3,690.7 1110.7,686.7 1105.3,686.7 1101.3,682 1097.3,680.7 1102.7,678.7 1105.3,676 1110.7,673.3 1114.7,670.7 1113.3,662.7" fill="#FEE391" stroke="#FEE391" stroke-width="0.6"/>
<polygon points="1129.3,673.3 1133.3,672 1140,676 1146.7,681.3 1149.3,686.7 1149.3,692 1140,691.3 1132,694 1129.3,692 1125.3,688 1125.3,682.7 1126.7,678.7" fill="#FEE391" stroke="#FEE391" stroke-width="0.6"/>
<polygon points="1060,660 1066.7,660 1069.3,665.3 1073.3,668 1077.3,672 1073.3,673.3 1068,672 1065.3,669.3 1060,668" fill="#FFFFE5" stroke="#FFFFE5" stroke-width="0.6"/>
<polygon points="1060,673.3 1065.3,673.3 1069.3,676 1073.3,678.7 1072,682.7 1068,685.3 1064,690.7 1060,693.3" fill="#FE9929" stroke="#FE9929" stroke-width="0.6"/>
<polygon points="1060,668 1065.3,669.3 1068,672 1073.3,673.3 1073.3,678.7 1069.3,676 1065.3,673.3 1060,673.3" fill="#FECE65" stroke="#FECE65" stroke-width="0.6"/>
<polygon points="1094.7,682.7 1092,680.7 1097.3,680.7 1101.3,682 1105.3,686.7 1110.7,686.7 1113.3,690.7 1117.3,686.7 1121.3,685.3 1125.3,682.7 1125.3,688 1129.3,692 1126.7,696 1128,700 1134.7,702.7 1138.7,708 1144,712 1148,717.3 1149.3,726.7 1150.7,732 1146.7,736 1138.7,733.3 1133.3,730.7 1129.3,726.7 1126.7,718.7 1122.7,710.7 1118.7,704 1113.3,700 1106.7,697.3 1100,697.3 1094.7,698.7 1088,701.3 1086.7,697.3 1088,694.7 1092,690.7 1093.3,686.7" fill="#FFF0AE" stroke="#FFF0AE" stroke-width="0.6"/>
<polygon points="1088,701.3 1094.7,698.7 1100,697.3 1106.7,697.3 1113.3,700 1118.7,704 1110.7,708 1105.3,713.3 1100,720 1093.3,724 1086.7,726.7 1080,728 1073.3,730.7 1068,726.7 1062.7,725.3 1068,721.3 1074.7,716 1077.3,712 1076,708 1077.3,704 1082.7,702.7" fill="#FFFFE5" stroke="#FFFFE5" stroke-width="0.6"/>
<polygon points="1118.7,704 1122.7,710.7 1126.7,718.7 1129.3,726.7 1125.3,728 1118.7,728 1113.3,725.3 1106.7,722.7 1100,720 1105.3,713.3 1110.7,708" fill="#FFFACA" stroke="#FFFACA" stroke-width="0.6"/>
<polygon points="1060,697.3 1062.7,700 1064,705.3 1066.7,708 1070.7,711.3 1076,708 1077.3,712 1074.7,716 1068,721.3 1062.7,725.3 1060,725.3" fill="#FECE65" stroke="#FECE65" stroke-width="0.6"/>
<polygon points="1062.7,725.3 1068,726.7 1073.3,730.7 1080,728 1086.7,726.7 1093.3,724 1100,720 1106.7,722.7 1113.3,725.3 1118.7,728 1117.3,734.7 1113.3,740 1109.3,745.3 1100,746.7 1090.7,745.3 1084,741.3 1078.7,744 1073.3,749.3 1068,748 1062.7,737.3 1060,736 1060,726.7" fill="#FFF0AE" stroke="#FFF0AE" stroke-width="0.6"/>
<polygon points="1118.7,728 1125.3,728 1129.3,726.7 1133.3,730.7 1138.7,733.3 1146.7,736 1145.3,748 1145.3,753.3 1140,758.7 1134.7,764 1126.7,766.7 1129.3,752 1124,749.3 1118.7,746.7 1113.3,748 1109.3,745.3 1113.3,740 1117.3,734.7" fill="#FFFFE5" stroke="#FFFFE5" stroke-width="0.6"/>
<polygon points="1068,748 1073.3,749.3 1078.7,744 1084,741.3 1090.7,745.3 1100,746.7 1109.3,745.3 1113.3,748 1118.7,746.7 1124,749.3 1129.3,752 1128,766.7 1122.7,772 1120,780 1078.7,780 1077.3,772 1074.7,762.7 1073.3,757.3 1068,754.7" fill="#FFFACA" stroke="#FFFACA" stroke-width="0.6"/>
<polygon points="1060,736 1062.7,737.3 1066.7,746.7 1068,754.7 1064,758.7 1060,760" fill="#FE9929" stroke="#FE9929" stroke-width="0.6"/>
<polygon points="1060,760 1064,758.7 1068,754.7 1073.3,757.3 1074.7,762.7 1077.3,772 1078.7,780 1060,780" fill="#FFFFE5" stroke="#FFFFE5" stroke-width="0.6"/>
</g>
<clipPath id="t8"><rect x="1260" y="390" width="140" height="90"/></clipPath><g clip-path="url(#t8)">
<polygon points="1256,378 1268,382 1280,390 1283,404.4 1289,416 1285,422 1279,420 1268,419 1262,416 1258,410 1256,390" fill="#FFF0AE" stroke="#FFF0AE" stroke-width="0.6"/>
<polygon points="1268,382 1280,390 1283,404.4 1296,405 1304,404 1310,398 1320.4,394 1322.8,388.4 1325.6,379 1300,370 1280,370" fill="#FEE391" stroke="#FEE391" stroke-width="0.6"/>
</g>
<clipPath id="t9"><rect x="660" y="680" width="200" height="200"/></clipPath><g clip-path="url(#t9)">
<rect x="660" y="680" width="200" height="200" fill="#D9D9D9"/>
<polygon points="694.7,680 733.3,680 732,686.7 724,690 717.3,687.3 709.3,689.3 705.3,693.3 701.3,694.7 699.3,689.3 701.3,682.7" fill="#F27E1B" stroke="#F27E1B" stroke-width="0.6"/>
<polygon points="705.3,693.3 709.3,689.3 717.3,687.3 724,690 732,686.7 733.3,680 742.7,680 748,685.3 756,688 764,692 768,696 766.7,701.3 773.3,706.7 777.3,710.7 777.3,714.7 773.3,716 766.7,712 758.7,713.3 753.3,710.7 745.3,704 738.7,702.7 732,706.7 725.3,710.7 722.7,717.3 717.3,720 718.7,725.3 713.3,730.7 708,738.7 705.3,738.7 701.3,733.3 698.7,728 697.3,724 704,721.3 704,713.3 705.3,705.3 708,700" fill="#FFFACA" stroke="#FFFACA" stroke-width="0.6"/>
<polygon points="742.7,680 758.7,680 761.3,685.3 766.7,689.3 768,694.7 764,692 756,688 748,685.3" fill="#FFFFE5" stroke="#FFFFE5" stroke-width="0.6"/>
<polygon points="722.7,717.3 725.3,710.7 732,706.7 738.7,702.7 745.3,704 753.3,710.7 752,716 746.7,718.7 742.7,714.7 736,713.3 730.7,716 726.7,720 720,721.3 717.3,720" fill="#FFFFE5" stroke="#FFFFE5" stroke-width="0.6"/>
<polygon points="758.7,680 780,680 781.3,686.7 784,693.3 786.7,697.3 785.3,700 780,704 777.3,710.7 773.3,706.7 766.7,701.3 768,694.7 766.7,689.3 761.3,685.3" fill="#FFF0AE" stroke="#FFF0AE" stroke-width="0.6"/>
<polygon points="780,680 809.3,680 805.3,685.3 800,690.7 793.3,692 788,697.3 786.7,697.3 784,693.3 781.3,686.7" fill="#FECE65" stroke="#FECE65" stroke-width="0.6"/>
<polygon points="785.3,700 788,697.3 790.7,701.3 794.7,705.3 798.7,704 802.7,705.3 805.3,709.3 810.7,710 814.7,708 818.7,702.7 821.3,694.7 824,690.7 829.3,689.3 833.3,685.3 836,680 860,680 860,694.7 852,696 846.7,697.3 842.7,700 837.3,700 833.3,706.7 836,716 833.3,724 837.3,734.7 836,734.7 828,736 822.7,732 820,733.3 818.7,738.7 813.3,740 808,744 804,749.3 801.3,746.7 798.7,741.3 796,746.7 793.3,742.7 789.3,737.3 782.7,737.3 780,729.3 774.7,725.3 773.3,722.7 777.3,714.7 777.3,710.7 780,704" fill="#FFF0AE" stroke="#FFF0AE" stroke-width="0.6"/>
<polygon points="794.7,705.3 798.7,704 802.7,705.3 805.3,709.3 810.7,710 814.7,708 818.7,702.7 824,706.7 832,708 836,716 833.3,724 837.3,734.7 828,736 822.7,732 820,733.3 818.7,738.7 813.3,740 808,744 804,749.3 801.3,746.7 798.7,741.3 797.3,733.3 798.7,725.3 793.3,720 796,712" fill="#FFFACA" stroke="#FFFACA" stroke-width="0.6"/>
<polygon points="809.3,680 836,680 833.3,685.3 829.3,689.3 824,690.7 821.3,694.7 818.7,702.7 816,700 813.3,694.7 806.7,690.7 800,690.7 805.3,685.3" fill="#FFF0AE" stroke="#FFF0AE" stroke-width="0.6"/>
<polygon points="788,697.3 793.3,692 800,690.7 806.7,690.7 813.3,694.7 816,700 818.7,702.7 814.7,708 810.7,710 805.3,709.3 802.7,705.3 798.7,704 794.7,705.3 790.7,701.3" fill="#FFFFE5" stroke="#FFFFE5" stroke-width="0.6"/>
<polygon points="842.7,700 846.7,697.3 852,696 860,694.7 860,732 856,728 852,724 846.7,718.7 844,714.7 845.3,706.7" fill="#FFF0AE" stroke="#FFF0AE" stroke-width="0.6"/>
<polygon points="753.3,710.7 758.7,713.3 766.7,712 773.3,716 773.3,722.7 774.7,725.3 770.7,730.7 766.7,725.3 761.3,724 756,722.7 753.3,718.7 749.3,720 752,716" fill="#FECE65" stroke="#FECE65" stroke-width="0.6"/>
<polygon points="661.3,760 665.3,738.7 673.3,733.3 677.3,733.3 680,744 686.7,746.7 688,753.3 692,749.3 697.3,745.3 698.7,738.7 701.3,733.3 705.3,738.7 708,738.7 713.3,730.7 718.7,725.3 720,736 722.7,741.3 726.7,744 729.3,750.7 732,746.7 737.3,741.3 742.7,737.3 745.3,730.7 745.3,724 746.7,718.7 752,716 749.3,720 753.3,718.7 756,722.7 761.3,724 766.7,725.3 770.7,730.7 774.7,725.3 780,729.3 782.7,737.3 789.3,737.3 793.3,742.7 796,746.7 794.7,754.7 796,765.3 793.3,768 788,768 780,770.7 773.3,768 772,762.7 766.7,760 761.3,765.3 756,765.3 752,762.7 750.7,760 753.3,756 750.7,752 748,749.3 752,746.7 746.7,745.3 740,746 738.7,753.3 732,757.3 730.7,762.7 726.7,770.7 720,777.3 717.3,786.7 720,793.3 722,800 721.3,804 713.3,806.7 709.3,805.3 702.7,809.3 694.7,812 690.7,806.7 686.7,800 685.3,794.7 680,785.3 673.3,773.3 668,764" fill="#FFF0AE" stroke="#FFF0AE" stroke-width="0.6"/>
<polygon points="680,785.3 685.3,781.3 692,780 697.3,784 702.7,782.7 704,790.7 698.7,797.3 696,805.3 694.7,812 690.7,806.7 686.7,800 685.3,794.7" fill="#D9D9D9" stroke="#D9D9D9" stroke-width="0.6"/>
<polygon points="660,765.3 664,768 668,764 673.3,773.3 680,785.3 685.3,794.7 686.7,800 680,802.7 673.3,808 666.7,812 662.7,808 664,800 660,797.3" fill="#FEB642" stroke="#FEB642" stroke-width="0.6"/>
<polygon points="660,797.3 664,800 662.7,808 666.7,812 673.3,808 674.7,820 672,829.3 669.3,840 664,845.3 660,845.3" fill="#FFF0AE" stroke="#FFF0AE" stroke-width="0.6"/>
<polygon points="734.7,786.7 738.7,781.3 742.7,776 746.7,780 750.7,775.3 753.3,778.7 758.7,779.3 764,778.7 769.3,777.3 772,773.3 773.3,768 780,770.7 788,768 793.3,768 802.7,773.3 804,778.7 801.3,782.7 793.3,786.7 790.7,793.3 793.3,800 798.7,805.3 806.7,806.7 801.3,808 793.3,809.3 794.7,818.7 797.3,822.7 796,828 788,825.3 784,826.7 780,821.3 774.7,817.3 770.7,813.3 776,810.7 780,808 776,802.7 770.7,797.3 766.7,792 762.7,790.7 760,793.3 756,796 758.7,801.3 756,808 753.3,812 752,820 750.7,821.3 756,826.7 760,833.3 756,841.3 754.7,848 757.3,854.7 752,853.3 745.3,852 741.3,849.3 734.7,846.7 732,840 728,836 729.3,826.7 732,818.7 728,814.7 725.3,808 721.3,804 722,800 722.7,797.3 726.7,796 732,792" fill="#FFF0AE" stroke="#FFF0AE" stroke-width="0.6"/>
<polygon points="790.7,793.3 793.3,786.7 801.3,782.7 804,778.7 810.7,780 816,785.3 814.7,790.7 810.7,796 806.7,800 806.7,806.7 798.7,805.3 793.3,800" fill="#FECE65" stroke="#FECE65" stroke-width="0.6"/>
<polygon points="780,749.3 782.7,745.3 788,742.7 793.3,745.3 796,749.3 798.7,746.7 801.3,749.3 804,749.3 808,744 813.3,740 818.7,738.7 820,733.3 822.7,732 828,736 836,734.7 838.7,740 833.3,745.3 829.3,754.7 830.7,765.3 829.3,773.3 828,778.7 822.7,781.3 817.3,776 814.7,778.7 810.7,780 804,778.7 802.7,773.3 793.3,768 796,765.3 794.7,760 788,758.7 784,754.7" fill="#FEB642" stroke="#FEB642" stroke-width="0.6"/>
<polygon points="838.7,740 841.3,737.3 844,745.3 849.3,750.7 852,756 857.3,757.3 860,754.7 860,773.3 854.7,776 850.7,781.3 846.7,776 840,774.7 833.3,777.3 828,778.7 829.3,773.3 830.7,765.3 829.3,754.7 833.3,745.3" fill="#FE9929" stroke="#FE9929" stroke-width="0.6"/>
<polygon points="852,781.3 860,773.3 860,785.3 853.3,786.7" fill="#FFFACA" stroke="#FFFACA" stroke-width="0.6"/>
<polygon points="705.3,813.3 709.3,805.3 713.3,806.7 721.3,804 725.3,808 728,814.7 732,818.7 729.3,826.7 728,836 732,840 734.7,846.7 729.3,850.7 722.7,848 720,841.3 717.3,848 713.3,852 705.3,852 702.7,846.7 704,840 702.7,837.3 706.7,826.7 705.3,820" fill="#FFFFE5" stroke="#FFFFE5" stroke-width="0.6"/>
<polygon points="682.7,856 686.7,857.3 694.7,852 696,844 701.3,840 704,840 702.7,846.7 705.3,852 713.3,852 717.3,848 720,841.3 722.7,848 722.7,858.7 716,864 709.3,861.3 704,865.3 701.3,872 705.3,877.3 701.3,880 692,880 688,872 684,868 686.7,864" fill="#FEB642" stroke="#FEB642" stroke-width="0.6"/>
<polygon points="734.7,860 741.3,853.3 745.3,852 752,853.3 757.3,854.7 762.7,853.3 768,854.7 770.7,860 776,862.7 784,861.3 790.7,864 792,870.7 788,877.3 782.7,880 740,880 736,874.7 734.7,866.7" fill="#FEE391" stroke="#FEE391" stroke-width="0.6"/>
<polygon points="846.7,825.3 849.3,822.7 854.7,821.3 860,818.7 860,865.3 854.7,860 852,852 854.7,845.3 857.3,837.3 852,832 848,830.7" fill="#FFFFE5" stroke="#FFFFE5" stroke-width="0.6"/>
</g>
<clipPath id="t10"><rect x="860" y="780" width="200" height="200"/></clipPath><g clip-path="url(#t10)">
<rect x="860" y="780" width="200" height="200" fill="#D9D9D9"/>
<polygon points="865.3,780 946.7,780 948,792 949.3,804 940,808 929.3,809.3 926.7,802.7 925.3,797.3 918.7,793.3 910.7,791.3 906.7,797.3 902.7,800 906.7,805.3 906.7,812 910.7,817.3 906.7,825.3 904,830.7 900,834.7 901.3,840 904,842.7 900,849.3 892,854.7 880,853.3 870.7,858.7 864,865.3 860,862.7 860,820 864,817.3 866.7,810.7 862.7,805.3 864,797.3 866.7,793.3" fill="#FFFFE5" stroke="#FFFFE5" stroke-width="0.6"/>
<polygon points="929.3,809.3 940,808 949.3,804 948,793.3 953.3,794.7 958.7,801.3 961.3,810.7 969.3,808 966.7,814.7 966.7,825.3 961.3,828 956,829.3 950.7,826.7 945.3,830.7 944,840 940,838.7 937.3,833.3 930.7,832 932,826.7 928,821.3 930.7,817.3" fill="#F27E1B" stroke="#F27E1B" stroke-width="0.6"/>
<polygon points="946.7,780 964,780 962.7,785.3 965.3,792 970.7,800 969.3,808 961.3,810.7 958.7,801.3 953.3,794.7 948,793.3" fill="#FE9929" stroke="#FE9929" stroke-width="0.6"/>
<polygon points="964,780 970.7,780 966.7,786.7 962.7,785.3" fill="#FEB642" stroke="#FEB642" stroke-width="0.6"/>
<polygon points="966.7,814.7 969.3,808 973.3,808.7 980,806.7 990.7,804 993.3,800 1001.3,794.7 1010.7,788 1016,784 1017.3,790.7 1021.3,797.3 1025.3,801.3 1021.3,809.3 1016,816 1012,824 1009.3,833.3 1010.7,840 1008,842.7 1009.3,849.3 1004,848 1000,845.3 993.3,846.7 986.7,849.3 977.3,850.7 973.3,846.7 976,841.3 978.7,837.3 984,834.7 982.7,830.7 976,829.3 969.3,830.7 966.7,825.3" fill="#FFF0AE" stroke="#FFF0AE" stroke-width="0.6"/>
<polygon points="970.7,780 1038.7,780 1037.3,785.3 1026.7,789.3 1025.3,801.3 1021.3,797.3 1017.3,790.7 1016,784 1010.7,788 1001.3,794.7 993.3,800 990.7,804 980,806.7 973.3,808.7 969.3,808 970.7,800 965.3,792 966.7,786.7" fill="#FFFFE5" stroke="#FFFFE5" stroke-width="0.6"/>
<polygon points="1038.7,780 1060,780 1060,817.3 1056,820 1050.7,821.3 1044,818.7 1038.7,820 1030.7,816 1025.3,813.3 1021.3,809.3 1025.3,801.3 1026.7,789.3 1037.3,785.3" fill="#FFFFE5" stroke="#FFFFE5" stroke-width="0.6"/>
<polygon points="1033.3,848 1038.7,841.3 1045.3,834.7 1049.3,829.3 1050.7,821.3 1056,820 1060,817.3 1060,862.7 1054.7,868 1049.3,873.3 1044,877.3 1038.7,876 1036,866.7 1033.3,857.3" fill="#FECE65" stroke="#FECE65" stroke-width="0.6"/>
<polygon points="1045.3,834.7 1049.3,829.3 1050.7,821.3 1056,820 1060,817.3 1060,840 1054.7,841.3 1049.3,838.7" fill="#FEE391" stroke="#FEE391" stroke-width="0.6"/>
<polygon points="1056,842.7 1060,841.3 1060,852 1057.3,852" fill="#FFFACA" stroke="#FFFACA" stroke-width="0.6"/>
<polygon points="1008,842.7 1010.7,840 1020,842.7 1025.3,846.7 1030.7,846.7 1033.3,857.3 1029.3,862.7 1024,866.7 1020,870.7 1013.3,873.3 1006.7,876 1000,878.7 998.7,872 998.7,864 1001.3,857.3 1002.7,850.7 1004,848 1009.3,849.3" fill="#FFF0AE" stroke="#FFF0AE" stroke-width="0.6"/>
<polygon points="944,840 945.3,830.7 950.7,826.7 956,829.3 961.3,828 966.7,825.3 969.3,830.7 976,829.3 982.7,830.7 984,834.7 978.7,837.3 976,841.3 973.3,846.7 977.3,850.7 986.7,849.3 993.3,846.7 1000,845.3 1004,848 1002.7,850.7 1001.3,857.3 998.7,864 998.7,872 1000,878.7 1006.7,876 1013.3,873.3 1018.7,881.3 1020,893.3 1013.3,897.3 1006.7,898.7 1000,900 993.3,897.3 986.7,902.7 980,900 977.3,900 973.3,894.7 969.3,888 964,886.7 957.3,886.7 952,884 946.7,881.3 942.7,877.3 948,873.3 956,870.7 962.7,865.3 964,857.3 960,852 953.3,852 945.3,850.7 942.7,846.7" fill="#FFFFE5" stroke="#FFFFE5" stroke-width="0.6"/>
<polygon points="1013.3,873.3 1020,870.7 1025.3,873.3 1028,877.3 1033.3,876 1028,886.7 1020,893.3 1018.7,881.3" fill="#FFFACA" stroke="#FFFACA" stroke-width="0.6"/>
<polygon points="942.7,877.3 946.7,881.3 952,884 957.3,886.7 960,893.3 961.3,897.3 958.7,904 956,909.3 952,905.3 948,898.7 944,893.3 940,894.7 934.7,892 940,885.3" fill="#FFFACA" stroke="#FFFACA" stroke-width="0.6"/>
<polygon points="924,905.3 929.3,898.7 934.7,892 940,894.7 944,893.3 948,898.7 949.3,905.3 946.7,912 945.3,917.3 940,922.7 934.7,924 930.7,922.7 926.7,916 922.7,910.7" fill="#FFF0AE" stroke="#FFF0AE" stroke-width="0.6"/>
<polygon points="957.3,886.7 964,886.7 969.3,888 973.3,894.7 977.3,900 980,897.3 981.3,904 976,905.3 970.7,904 965.3,900 961.3,897.3 960,893.3" fill="#FFF0AE" stroke="#FFF0AE" stroke-width="0.6"/>
<polygon points="948,898.7 952,905.3 956,909.3 958.7,904 961.3,908 953.3,916 949.3,918.7 945.3,917.3 946.7,912 949.3,905.3" fill="#FFFFE5" stroke="#FFFFE5" stroke-width="0.6"/>
<polygon points="949.3,905.3 953.3,906.7 956,909.3 953.3,914.7 949.3,917.3 948,912" fill="#D9D9D9" stroke="#D9D9D9" stroke-width="0.6"/>
<polygon points="885.3,913.3 893.3,910.7 897.3,900 904,897.3 912,900 914.7,902.7 909.3,908 906.7,914.7 909.3,921.3 909.3,925.3 900,929.3 892,928 886.7,924 884,918.7" fill="#FFFFE5" stroke="#FFFFE5" stroke-width="0.6"/>
</g>
<clipPath id="t11"><rect x="1060" y="780" width="200" height="200"/></clipPath><g clip-path="url(#t11)">
<rect x="1060" y="780" width="200" height="200" fill="#D9D9D9"/>
<polygon points="1073.3,760 1126.7,760 1122.7,765.3 1118.7,770.7 1117.3,777.3 1120,782.7 1112,780 1109.3,777.3 1102.7,778.7 1098.7,780 1094.7,774.7 1093.3,770.7 1089.3,773.3 1085.3,777.3 1078.7,776 1077.3,770.7 1074.7,765.3" fill="#FFFACA" stroke="#FFFACA" stroke-width="0.6"/>
<polygon points="1040,768 1053.3,765.3 1064,760 1073.3,760 1074.7,765.3 1077.3,770.7 1078.7,776 1085.3,777.3 1089.3,773.3 1093.3,770.7 1094.7,774.7 1098.7,780 1102.7,778.7 1109.3,777.3 1112,780 1120,782.7 1114.7,790.7 1109.3,796 1104,800 1093.3,797.3 1086.7,798 1078.7,799.3 1073.3,804 1070.7,810.7 1066.7,814.7 1060,816 1056,821.3 1052,825.3 1048,822.7 1045.3,818.7 1040,820" fill="#FFFFE5" stroke="#FFFFE5" stroke-width="0.6"/>
<polygon points="1070.7,810.7 1073.3,804 1078.7,799.3 1086.7,798 1093.3,797.3 1104,800 1102.7,805.3 1098.7,808 1098.7,816 1101.3,824 1096,830.7 1088,834.7 1080,837.3 1072,829.3 1068,824 1066.7,814.7" fill="#FFF0AE" stroke="#FFF0AE" stroke-width="0.6"/>
<polygon points="1048,840 1049.3,834.7 1052,825.3 1056,821.3 1060,816 1066.7,814.7 1068,824 1072,829.3 1080,837.3 1078.7,842.7 1074.7,846.7 1072,853.3 1065.3,852 1062.7,842.7 1057.3,841.3 1054.7,842.7" fill="#FEE391" stroke="#FEE391" stroke-width="0.6"/>
<polygon points="1040,838.7 1045.3,838.7 1049.3,834.7 1048,840 1054.7,842.7 1056,850.7 1062.7,856 1064,861.3 1057.3,866.7 1053.3,872 1048,876 1040,878.7" fill="#FECE65" stroke="#FECE65" stroke-width="0.6"/>
<polygon points="1056,842.7 1062.7,841.3 1065.3,846.7 1066.7,853.3 1057.3,854.7 1054.7,848" fill="#FFFFE5" stroke="#FFFFE5" stroke-width="0.6"/>
</g>
<clipPath id="t12"><rect x="560" y="700" width="100" height="300"/></clipPath><g clip-path="url(#t12)">
<polygon points="612,826.7 614.7,822.7 620,818.7 625.3,820 630.7,817.3 632,809.3 638.7,804 644,797.3 652,797.3 658.7,796 662.7,801.3 664,809.3 668,812 673.3,808 674.7,817.3 675.3,828 670.7,833.3 669.3,841.3 662.7,844 656,845.3 656,840 650.7,841.3 646.7,849.3 640,857.3 633.3,854.7 629.3,858.7 624,860 623.3,850.7 618.7,846.7 617.3,841.3 613.3,836" fill="#FFF0AE" stroke="#FFF0AE" stroke-width="0.6"/>
<polygon points="640,773.3 642.7,774.7 646.7,784 652,790.7 657.3,778.7 658.7,772 664,766.7 668,764.7 673.3,774.7 678.7,784 685.3,793.3 685.3,801.3 680,804 673.3,808 668,812 664,809.3 662.7,801.3 658.7,796 652,797.3 645.3,794.7 641.3,788 640,780" fill="#FEB642" stroke="#FEB642" stroke-width="0.6"/>
<polygon points="597.3,845.3 604,842.7 603.3,836 605.3,832 610.7,830 613.3,836 617.3,841.3 618.7,846.7 623.3,850.7 624,860.7 614.7,862 606.7,863.3 601.3,868 597.3,866 602,858.7 598.7,853.3" fill="#E1640E" stroke="#E1640E" stroke-width="0.6"/>
</g>
<clipPath id="t13"><rect x="660" y="880" width="200" height="120"/></clipPath><g clip-path="url(#t13)">
<polygon points="733,860 740,856 748,854 760,853 768,854 772,860 782,862 790,863 792,870 788,878 779,884 775,883 768,886 762,890 760,895 750,899 744,897 741,892 740,880 736,874 734,866" fill="#FEE391" stroke="#FEE391" stroke-width="0.6"/>
</g>
<clipPath id="t14"><rect x="990" y="490" width="72" height="92"/></clipPath><g clip-path="url(#t14)">
<rect x="990" y="490" width="72" height="92" fill="#D9D9D9"/>
<polygon points="986.7,488 1012,480 1018.7,480 1010.7,492 1005.3,494.7 994.7,498.7 989.3,498.7 986.7,493.3" fill="#FE9929" stroke="#FE9929" stroke-width="0.6"/>
<polygon points="1018.7,480 1029.3,480 1029.3,485.3 1034.7,489.3 1041.3,492 1049.3,490.7 1052,496 1056,499.3 1048,505.3 1045.3,510 1037.3,510.7 1029.3,512 1025.3,506.7 1018.7,504 1013.3,500 1006.7,497.3 1005.3,494.7 1010.7,492" fill="#FEE391" stroke="#FEE391" stroke-width="0.6"/>
<polygon points="989.3,498.7 994.7,498.7 1005.3,494.7 1006.7,497.3 1013.3,500 1018.7,504 1025.3,506.7 1029.3,512 1022.7,517.3 1017.3,520 1012,524 1008,529.3 1005.3,522.7 998.7,521.3 997.3,513.3 990.7,509.3 986.7,501.3" fill="#FFF0AE" stroke="#FFF0AE" stroke-width="0.6"/>
<polygon points="986.7,509.3 990.7,509.3 997.3,513.3 998.7,521.3 1005.3,522.7 1008,529.3 1008,533.3 1000,540 997.3,542.7 986.7,542.7" fill="#FEB642" stroke="#FEB642" stroke-width="0.6"/>
<polygon points="1012,524 1017.3,520 1022.7,517.3 1029.3,512 1037.3,510.7 1045.3,510 1046.7,514.7 1040,518.7 1036,524 1033.3,533.3 1030.7,538.7 1025.3,545.3 1021.3,540 1020,532 1016,530.7 1008,533.3 1008,529.3" fill="#F27E1B" stroke="#F27E1B" stroke-width="0.6"/>
<polygon points="1045.3,510 1048,505.3 1056,499.3 1061.3,502.7 1064,510.7 1061.3,514.7 1060,520 1065.3,528 1065.3,531.3 1058.7,529.3 1054.7,525.3 1048,526.7 1045.3,532 1040,530.7 1036,524 1040,518.7 1046.7,514.7" fill="#FEB642" stroke="#FEB642" stroke-width="0.6"/>
<polygon points="997.3,542.7 1000,540 1008,533.3 1016,530.7 1020,532 1021.3,540 1025.3,545.3 1022.7,550.7 1017.3,554.7 1013.3,555.6 998.7,560.3 1000,554.7 1001.3,552 997.3,546.7" fill="#FECE65" stroke="#FECE65" stroke-width="0.6"/>
<polygon points="1048,526.7 1054.7,525.3 1058.7,529.3 1065.3,531.3 1061.3,538.7 1064,546.7 1066.7,553.3 1077.3,556 1082.7,560 1093.3,565.3 1090.7,573.3 1086.7,580 1077.3,582.7 1073.3,589.3 1066.7,590.7 1062.7,597.3 1058.7,592 1053.3,593.3 1048,596 1040,593.3 1037.3,588 1030.7,580 1022.7,585.3 1016,582.7 1017.3,576 1013.3,566.7 1013.3,558.7 1018.7,562.7 1024,561.3 1029.3,561.3 1034.7,565.3 1040,562.7 1048,565.3 1053.3,560 1056,557.3 1054.7,549.3 1050.7,542.7 1052,537.3 1056,533.3" fill="#F27E1B" stroke="#F27E1B" stroke-width="0.6"/>
<polygon points="1025.3,545.3 1030.7,538.7 1033.3,533.3 1036,524 1040,530.7 1045.3,532 1048,526.7 1054.7,525.3 1056,533.3 1052,537.3 1050.7,542.7 1054.7,549.3 1045.3,546.7 1040,546.7 1034.7,550.7 1026.7,552 1022.7,550.7" fill="#FEB642" stroke="#FEB642" stroke-width="0.6"/>
<polygon points="1013.3,558.7 1017.3,554.7 1022.7,550.7 1026.7,552 1034.7,550.7 1040,546.7 1045.3,546.7 1054.7,549.3 1056,557.3 1053.3,560 1048,565.3 1040,562.7 1034.7,565.3 1029.3,561.3 1024,561.3 1018.7,562.7" fill="#FE9929" stroke="#FE9929" stroke-width="0.6"/>
<polygon points="1061.3,538.7 1065.3,531.3 1069.3,532 1073.3,525.3 1078.7,522.7 1085.3,525.3 1092,529.3 1093.3,536 1098.7,542.7 1101.3,546.7 1098.7,552 1093.3,554.7 1093.3,561.3 1088,560 1082.7,560 1077.3,556 1066.7,553.3 1064,546.7" fill="#FEB642" stroke="#FEB642" stroke-width="0.6"/>
<polygon points="1030.7,580 1037.3,576 1042.7,574.7 1048,580 1052,585.3 1053.3,592 1048,596 1040,593.3 1037.3,588" fill="#E1640E" stroke="#E1640E" stroke-width="0.6"/>
<polygon points="986.7,580 988,576 993.3,572 998.7,563.3 1014.7,557.6 1013.3,566.7 1017.3,576 1016,582.7 1022.7,585.3 1021.3,590.7 1018.7,594.7 1010.7,593.3 1001.3,594.7 998.7,588 994.7,584 988,584" fill="#FECE65" stroke="#FECE65" stroke-width="0.6"/>
<polygon points="986.7,542.7 997.3,542.7 997.3,546.7 1001.3,552 1000,554.7 989.3,554.7 986.7,554.7" fill="#FEE391" stroke="#FEE391" stroke-width="0.6"/>
<polygon points="989.3,554.7 998.7,560 1013.3,555.3 1014.7,557.3 998.7,563.3 993.3,572 988,576 988,562.7" fill="#FFFFE5" stroke="#FFFFE5" stroke-width="0.6"/>
</g>
</g>
<g fill="none" stroke="#555" stroke-width="0.9" stroke-linejoin="round">
<polyline points="183,600 200,597 204,586 211,578 214,573 228,574 240,577 250,575 252,571 260,566 270,566 274,572 288,574 298,573 308,568 322,564 330,566 340,563 341.3,561.3 345.3,553.3 368,548 392,545.3 405.3,549.3 421.3,554.7"/>
<polyline points="421.3,554.7 429.3,552 448,556 454.7,554.7 453.3,544 445.3,538.7 457.3,530.7 453.3,520 441.3,513.3 440,498.7 432,496 440,490.7 480,481.3"/>
<polyline points="421.3,554.7 416,558.7 424,561.3 422.7,572 417.3,577.3 425.3,588 425.3,601.3 421.3,606.7 429.3,620 442.7,630.7 458.7,630.7 480,641.3 509.3,645.3 522.7,648 532,642.7 544,650.7 550.7,657.3 552,665.3 566.7,666.7 569.3,662.7 580,668 581.3,660 593.3,657.3 594.7,646.7"/>
<polyline points="594.7,646.7 593.3,636 602.7,625.3 594.7,614.7 604,604 617.3,606.7 626.7,628 648,638.7 652,633.3 658.7,644 666.7,644"/>
<polyline points="594.7,646.7 610.7,649.3 618.7,662.7 628,676 622.7,678.7 629.3,692 632,710.7 632,729.3 637.3,756"/>
<polyline points="632,732 624,737.3 622.7,752 617.3,758.7 612,753.3"/>
<polyline points="640,458.5 655.2,463.6 665.3,468.7 672.9,471.2 674.2,481.3 685.6,486.4 693.2,488.9 700.8,481.3 710.9,476.3 723.6,473.7 736.3,469.9 743.9,469.9 747.7,480.1 743.9,488.9 732.5,499.1 728.7,506.7 736.3,514.3 748.9,521.9 759.1,519.3 780.6,514.3 785.7,499.1 786.9,486.4 794.5,476.3 802.1,471.2 804.7,461.1"/>
<polyline points="804.7,461.1 808.5,473.7 804.7,481.3 802.1,491.5 797.1,499.1 807.2,504.1 817.3,504.1 827.5,511.7 817.3,518.1 817.3,529.5 802.1,530.7 798.3,542.1 789.5,545.9 792,552.3 807.2,554.8 808.5,564.9 799.6,567.5 798.3,575.1 792,572.5 781.9,567.5 774.3,562.4 774.3,554.8 781.9,552.3 776.8,544.7 771.7,534.5 764.1,526.9 756.5,523.1 748.9,521.9"/>
<polyline points="827.5,511.7 840.1,516.8 850.3,514.3 855.3,504.1 860.4,496.5 873.1,481.3 880.7,473.7 893.3,469.9 903.5,468.7 908.5,466.1 921.2,464.9 928.8,453.5 935.1,448.4 944,448.4 956.7,444.6 966.8,440.8 974.4,438.3 969.3,430.7 966.8,423.1 971.9,412.9 979.5,401.5 987.1,402.8 989.6,412.9 999.7,411.7 1009.9,407.9 1020,404.1"/>
<polyline points="903.5,468.7 898.4,481.3 893.3,491.5 889.5,501.6 893.3,514.3 894.6,521.9 888.3,532 889.5,552.3 890.8,562.4 887,572.5 884.5,582.7 884.5,592.8 889.5,595.3 893.3,608 898.4,619.4 900.9,628.3 906,633.3 911.1,643.5"/>
<polyline points="974.4,438.3 976.9,448.4 969.3,453.5 971.9,463.6 979.5,468.7 976.9,478.8 966.8,483.9 960.5,491.5 961.7,501.6 969.3,511.7 968.1,521.9 963,529.5 959.2,539.6 964.3,547.2 963,557.3 956.7,567.5 951.6,572.5 938.9,580.1"/>
<polyline points="884.5,592.8 893.3,591.5 906,587.7 918.7,582.7 923.7,578.9 938.9,580.1"/>
<polyline points="827.5,511.7 826.2,521.9 824.9,534.5 832.5,539.6 840.1,544.7 847.7,549.7 846.5,562.4 845.2,575.1 827.5,576.3 817.3,575.1 808.5,564.9"/>
<polyline points="827.5,576.3 824.9,581.4 817.3,582.7 802.1,582.7 799.6,590.3 802.1,600.4 798.3,608 802.1,615.6 792,620.7 784.4,624.5 785.7,633.3 789.5,638.4 781.9,640.9 774.3,638.4 766.7,643.5 754,638.4 748.9,633.3 751.5,625.7 741.3,618.1 726.1,613.1 721.1,602.9 710.9,605.5 703.3,609.3 705.9,618.1 698.3,623.2 693.2,627 680.5,629.5 679.3,638.4 667.9,644.7 655.2,643.5 650.1,635.9 640,638.4"/>
<polyline points="789.5,638.4 802.1,643.5 812.3,644.7 822.4,648.5 832.5,652.3 842.7,654.9 840.1,661.2 845.2,666.3 837.6,676.4 832.5,684 822.4,690.3 817.3,699.2 812.3,709.3 804.7,709.3 797.1,703 784.4,700.5"/>
<polyline points="842.7,654.9 855.3,659.9 862.9,666.3 875.6,671.3 880.7,676.4 881.9,686.5 873.1,691.6 860.4,695.4 845.2,699.2 843.9,711.9 850.3,719.5 852.8,729.6 860.4,732.1 862.9,724.5 875.6,716.9 888.3,719.5 890.8,709.3 903.5,711.9 916.1,715.7 928.8,720.7 944,719.5 946.5,724.5 959.2,719.5 960.5,732.1"/>
<polyline points="911.1,643.5 921.2,648.5 936.4,649.8 951.6,648.5 961.7,651.1 963,661.2 969.3,666.3 982,668.8 999.7,673.9 1007.3,666.3 1012.4,658.7 1020,656.1"/>
<polyline points="640,488.9 655.2,496.5 657.7,500.3 670.4,504.1 685.6,511.7 700.8,518.1 708.4,526.9 713.5,532 708.4,537.1 713.5,544.7 721.1,552.3 728.7,554.8 737.5,575.1 738.8,582.7"/>
<polyline points="713.5,567.5 705.9,572.5 703.3,580.1 697,585.2 698.3,595.3 703.3,600.4 693.2,602.9 680.5,600.4 671.7,602.9 672.9,608 680.5,615.6 690.7,620.7 695.7,627"/>
<polyline points="1236.1,172.1 1226.9,188.9 1220.8,201.2 1219.3,219.6 1211.6,225.7 1205.5,238 1200.9,247.2 1196.3,238 1184,247.2 1171.7,256.4 1156.4,268.7 1165.6,277.9 1168.7,284 1167.1,296.3 1156.4,300.9 1141.1,305.5 1144.1,311.6 1150.3,320.8 1148.7,333.1 1153.3,345.3 1171.7,340.7 1177.9,354.5 1180.9,366.8 1187.1,369.9 1184,376 1165.6,385.2 1147.2,389.8 1128.8,394.4 1116.5,403.6 1104.3,412.8 1095.1,406.7 1092,397.5 1085.9,403.6 1088.9,415.9 1076.7,431.2 1082.8,443.5 1092,452.7 1098.1,455.7"/>
<polyline points="1168.7,284 1184,280.9 1180.9,287.1 1170.2,288.6 1171.7,296.3 1190.1,296.3 1196.3,311.6 1208.5,316.2 1230,316.2 1237.7,320.8 1254.5,322.3 1260.7,333.1 1262.2,339.2 1272.9,342.3 1279.1,351.5 1288.3,342.3 1294.4,354.5 1302.1,365.3 1309.7,362.2 1318.9,354.5 1331.2,354.5 1337.3,363.7 1346.5,366.8 1355.7,368.3"/>
<polyline points="1187.1,369.9 1199.3,376 1202.4,382.1 1211.6,374.5 1214.7,385.2 1220.8,394.4 1222.3,403.6 1230,418.9 1233.1,432.7"/>
<polyline points="1000,409.7 1012.3,408.2 1030.7,394.4 1046,389.8 1058.3,397.5 1064.4,409.7 1065.9,422 1076.7,422 1076.7,431.2"/>
<polyline points="1000,449.6 1009.2,440.4 1021.5,431.2 1033.7,437.3 1042.9,440.4 1039.9,449.6 1049.1,455.7 1042.9,461.9 1030.7,464.9 1018.4,466.5 1009.2,461.9 1000,464.9"/>
<polyline points="1030.7,464.9 1039.9,455.7 1049.1,455.7 1052.1,468 1055.2,472.6 1050.6,486.4 1039.9,491 1030.7,486.4 1029.1,477.2 1030.7,464.9"/>
<polyline points="1053.3,500.8 1046.5,507.6 1039.7,511 1030.7,512.1 1021.6,517.8 1017.1,522.3 1010.3,526.9 1005.7,532.5 998.9,539.3 996.7,546.1 1000.1,554.1 997.8,559.7"/>
<polyline points="957,540.5 961.5,548.4 971.7,550.7 983.1,555.2 992.1,552.9 997.8,559.7 1013.7,556.3 1000.1,565.4 988.7,575.6 986.5,582.4 995.5,585.8 1000.1,593.7 1017.1,593.7 1019.3,598.3"/>
<polyline points="1017.1,593.7 1021.6,586.9 1027.3,585.8 1032.9,592.6 1039.7,596 1046.5,593.7 1053.3,592.6 1060.1,596 1063.5,598.3 1066.9,593.7 1076,589.2 1085.1,583.5 1085.1,586.9"/>
<polyline points="1019.3,598.3 1026.1,600.5 1032.9,605.1 1037.5,608.5 1046.5,609.6 1051.1,616.4 1061.3,615.3 1057.9,623.2 1060.1,630 1063.5,639.1 1071.5,641.3 1076,636.8 1081.7,635.7 1085.1,641.3 1080.5,647 1073.7,645.9 1070.3,652.7 1066.9,659.5 1071.5,665.1 1076,670.8 1078.3,677.6 1085.1,678.7 1089.6,681 1094.1,682.1"/>
<polyline points="1019.3,598.3 1017.1,605.1 1005.7,607.3 1003.5,616.4 997.8,622.1 988.7,632.3 994.4,636.8 996.7,645.9 1010.3,647 1010.3,664 1005.7,668.5 998.9,674.2 1008,682.1 1013.7,686.7 1008,693.5 1010.3,704.8 1014.8,715"/>
<polyline points="940,716.1 944.5,717.3 949.1,724.1 958.1,717.3 961.5,727.5 969.5,732 988.7,722.9 1001.2,715 1014.8,715 1028.4,710.5 1039.7,716.1 1046.5,722.9 1060.1,724.1 1063.5,725.2 1066.9,717.3 1073.7,711.6 1078.3,704.8 1085.1,700.3 1094.1,682.1 1100.9,683.3 1107.7,686.7 1113.4,690.1 1119.1,684.4 1123.6,686.7 1128.1,676.5 1134.9,671.9 1145.1,673.1 1147.4,677.6"/>
<polyline points="1123.6,686.7 1128.1,692.3 1137.2,690.1 1147.4,691.2"/>
<polyline points="1060.1,724.1 1063.5,732 1065.8,743.3 1069.2,754.7 1073.7,756.9 1076,766 1078.3,775.1 1087.3,777.3 1090.7,771.7 1096.4,779.6 1105.5,777.3 1112.3,781.9"/>
<polyline points="1073.7,756.9 1066.9,756.9 1053.3,763.7 1039.7,766 1035.2,772.8 1038.6,781.9 1026.1,788.7 1023.9,800"/>
<polyline points="640,750.4 645.6,742 654,751.8 656.8,761.6 666.6,765.8 670.8,772.8 679.2,786.8 686.2,796.6 694.6,810.6 704.4,806.4 717,805 721.2,798 718.4,784 726.8,770 732.4,756 740.8,747.6 749.2,746.2 752,756 754.8,765.8 766,760.2 773,770 768.8,775.6 752,778.4 743.6,777 736.6,784 736.6,798 752,796.6 757.6,805 754.8,814.8 752,823.2 760.4,831.6 763.2,837.2 757.6,845.6 756.2,852.6 766,852.6 773,862.4 788.4,862.4 792.6,868 788.4,879.2 777.2,883.4"/>
<polyline points="763.2,837.2 771.6,841.4 785.6,847 792.6,840 799.6,837.2 810.8,830.2 816.4,824.6 824.8,831.6 836,834.4 841.6,827.4 850,826 858.4,820.4 866.8,814.8 864,803.6 868.2,795.2 864,785.4 855.6,784 852.8,779.8 864,770 862.6,756 861.2,744.8 864,733.6"/>
<polyline points="773,770 780,765.8 791.2,767.2 795.4,763 780,750.4 784.2,746.2 795.4,747.6 801,742 808,744.8 819.2,733.6 830.4,733.6 840.2,737.8 841.6,747.6 850,753.2 852.8,760.2 861.2,756"/>
<polyline points="782.8,700 778.6,708.4 774.4,719.6 780,730.8 785.6,739.2 795.4,747.6"/>
<polyline points="866.8,814.8 875.2,809.2 883.6,810.6 892,805 904.6,806.4 908.8,814.8 903.2,823.2 900.4,837.2 910.2,835.8 911.6,845.6 922.8,844.2 928.4,835.8 939.6,834.4 942.4,840 948,828.8 967.6,830.2 983,831.6 984.4,840 973.2,845.6 987.2,849.8 1004,845.6 1006.8,849.8 1009.6,842.8 1020.8,844.2 1032,848.4 1034.8,862.4 1037.6,873.6"/>
<polyline points="922.8,844.2 924.2,856.8 917.2,868 911.6,876.4 908.8,890.4 897.6,897.4 892,904.4 886.4,910 885,918.4 875.2,919.8 872.4,928.2"/>
<polyline points="959.2,716.8 962,728 967.6,735 971.8,747.6 970.4,760.2 962,765.8 959.2,775.6 964.8,781.2 962,792.4 967.6,800.8 971.8,809.2 967.6,817.6 967.6,830.2"/>
<polyline points="1009.6,842.8 1012.4,831.6 1018,823.2 1023.6,812 1022.2,800.8 1029.2,789.6 1034.8,781.2 1037.6,770 1046,764.4 1060,761.6"/>
<polyline points="590,385 604,414 600,418 617,435 617,441 626,437 635,434 655,432.4 658,439 657,448 650,456 641,459"/>
<polyline points="480,481.3 482.7,476 500,477.3 501.3,484 514.7,484 516,488 529.3,488 532,497.3 552,497.3 568,502.7 577.3,500 570,503 578,500 580,494 587,491 585,484 586,477 596,476 600,478 608,480 612,478 618,482 626,480 632,484 640,489"/>
<polyline points="573,386 566,389 564,394 567,400 566,406 548,415 545,411 526,420 519,428 514,433 514,438 495,442 492,452 489,466 482,476 483,479"/>
<polygon points="58,471 66,469 67,460 70,454 80,451 88,447 89,443 100,443 105,439 109,448 122,445 128,440 132,430 138,428 148,430 156,427 164,420 176,417 190,410 208,402 211,397 209,388 214,382 214,377 222,374 221,366 214,350 213,338 203,331 206,327 244,319 248,322 260,323 263,320 256,314 258,304 266,288 273,271 286,276 310,277 316,280 322,275.6 330,275 333,270 329,250 334,241 348,239 356,234 356,225 360,222 380,221 382,226 379,229 386,233 384,237 397,243 398,247 409,251.6 418,250 424,255 430,254 432,258 437,260 441,270 449,278 453,287 450,294 452.4,302 447,307 444.4,315 449,322 463,326 475,325.6 500,328 512,331 530,340 544,348 550,347 549.6,353 554,354 562,374 571,381 573,386 590,385 590,384.4 640,390 664,387 680,389 694,392 700,398 714,401 730,407 755,408 756,413 765,414 775,408 800,398 820,393 860,392 871,390 886,385 893,378 902,369.6 914,366 922,361 919,354 912,349 909.6,344 913,339 915,331 922,325.6 932,326.4 940,332.4 958,334.4 970,329 983,316.4 988,318.4 1000,318 1018,309.6 1019,302 1026,294.4 1032,293 1044,292.4 1045,287.6 1052,289.6 1058,285.6 1065,283.6 1075,284.4 1077,282.4 1086,287 1100,285.6 1100,278 1097,271 1090,267.6 1083,262 1072,252.4 1060,250.4 1054,251 1043.6,260 1033,254.4 1018,255 1011.6,259 1005,254.4 1002.4,248 1008.4,245 1009,238 1016,226 1028,204.4 1038,208.4 1046,209 1053,212 1060,210 1072,202 1086,199 1088,193 1083,190 1090,184 1091,178 1098,171 1100,165 1104,158 1118,149 1120,144 1117,135 1104,134 1103.6,129.6 1116,123 1121,116.6 1134,115.6 1140,113 1152,111 1166,111.6 1174,109.4 1184,110 1196,115 1202,118 1212,119.6 1220,119 1228,122 1232,127 1238,130 1239,135 1246,141 1249,150 1254,158 1259,167 1258,174 1265,180 1269,192 1273,195 1271.6,203 1277,210 1290,211 1298,210 1308,216 1315,215 1322,221 1332,228 1342,229 1339,234 1345,239 1345,246 1342,249 1349,256 1350,259 1362,259.6 1376,258 1385,257 1388,253 1400,248.4 1412,244.4 1420,242.4 1428,241 1433,241.6 1441,240 1441,241.6 1432,245 1429,251 1433,256 1429,264 1422,267 1420,276 1416,286 1414,294 1412,302 1405,310 1404,314 1398,318 1397,324 1393,327 1382,324 1369,320 1362,326 1350,330 1354,342 1356,352 1354,364 1356,367 1354,376 1352,381 1340,384 1336,387 1342,393 1338,392 1332,385 1331,381 1325,379 1322,388 1320,393 1313,395 1309,397 1304,403 1296,404 1283,404.4 1285,411 1289,416 1285,421 1279,419 1268,418 1262,415 1258,410 1260,410 1251,415 1248,422 1237,433 1230,433 1220,440 1210,447 1200,457 1186,462 1172,464 1162,468 1152,473 1145,479 1139,482 1127,488 1127,484 1136,480 1139,474 1134,472 1130,468 1136,461 1148,450 1152,444 1150,439 1141,434 1134,433.6 1126,436 1118,444 1112,450 1100,456 1092,460 1086,468 1082,475 1069,482 1064,480 1058,477 1054,485 1050,492 1053,497 1064,502 1076,503 1082,508 1086,511 1085,515 1080,517 1079.6,523 1088,529 1096,528 1100,521 1107,518 1109,514 1118,512 1124,512 1130,517 1140,519 1149,518.4 1163,521.6 1161,529 1159,535 1152,536 1146,533 1138,538 1130,540 1124,545 1118,550 1112,554 1108,560 1103,564 1100,569 1094,575 1088,581 1085,584 1086,588 1092,590 1093,594 1109,601 1112,610 1120,627 1124,636 1123.3,642 1126.7,645.3 1133.3,648.7 1134.7,653.3 1140,656.7 1144,660 1146.7,668 1147.3,672 1150.7,678 1146.7,681.3 1147.3,686.7 1148.3,690.9 1140,690.7 1134.7,692 1129.3,694.7 1126.7,697.3 1129.3,700 1134.7,702.7 1138.7,708 1142.7,712 1145.3,714.7 1144,718.7 1146.7,721.3 1147.3,726.7 1148.7,732 1145.3,734.7 1141.3,733.3 1140,736 1141.3,740 1138.7,745.3 1140,752 1132,758 1130,764 1124,767 1118,773 1115,780 1112,784 1108,789 1104,794 1102,800 1098,806 1096,810 1096,816 1099,822 1096,828 1088,831 1082,835 1076,842 1072,846 1066,852 1059,857 1054,864 1048,871 1043,875 1040,876 1034,879 1028,884 1024,889 1016,892 1008,896 1002,895 996,898 990,896 986,900 982,898 979,903 972,905 966,908 963,902 961,898 959,907 954,912 950,918 946,916 940,921 932,923 926,921 920,925 910,928 900,931 893,935 889,938 892,942 888,946 890,952 892,958 887,960 880,961 876,959 873,953 871,946 871,938 873,931 872,929 860,930 860,931 848,926 838,928 830,925 822,926 816,921 805,916 801,904 807,894 796,891 787,891 779,887 775,881 768,884 762,888 760,893 750,897 744,895 742,902 736,897 732,900 729,895 722,904 716,900 709,896 704,904 693,905 689,908 690,918 694,926 692,931 694,937 688,935 681,936 679,922 672,925 664,929 658,928 653,921 652,915 645,913 635,911 639,900 643,891 640,888 629,885 627,874 624,866 623,861 612,862 604,864 600,867.6 598,866 603,859 599,853 599,845 603,843 603,836 611,830 613,824 620,818 624,810 626,800 625,788 624,774 617,769 613,758 610,755 601,749 597,752 594,758 593,765 588,768 580,762 570,758 560,754.4 560,754.7 549.3,758.7 541.3,766.7 525.3,773.3 516,785.3 509.3,789.3 477.3,790.7 474.7,777.3 465.3,774.7 464,765.3 458.7,761.3 453.3,765.3 440,760 421.3,757.3 410.7,769.3 406.7,781.3 401.3,776 404,762.7 397.3,760 386.7,764 365.3,766.7 352,760 340,764 332,753.3 321.3,753.3 320,746.7 314.7,746.7 300,738.7 297.3,729.3 285.3,730.7 280,725.3 286,732 280,724 266,716 253,708 252,703 237,700 232,711 228,705 220,700 206,696 200,690 192,684 189,686 182,684 177,676 178,672 176,666 177,662 170,655 171,652 169,646 176,643 178,648 182,651 189,644 185,629 177,620 175,607 180,604 183,600 178,598 166,593 165,587 161,578 162,571 146,571 134,567 126,560 119,562 114,556 116,550 112,541 104,539 100,534 81,530 82,527 94,524 95,520 91,512 89,500 89,495 80,490 69,493 64,488 66,482 59,471"/>
</g>
<polygon points="1137.3,830 1146.7,838 1144,844 1144.7,852 1141.3,858.7 1138.7,869.3 1136,880 1133.3,889.3 1130.7,893.3 1125.3,898.7 1122.7,906.7 1122,918 1118,917.3 1116,906.7 1110.7,902.7 1106.7,898.7 1105.3,890.7 1102.7,888 1104.7,877.3 1104.7,872 1110.7,861.3 1117.3,849.3 1122.7,842.7 1126.7,836 1133.3,834.7" fill="#FEE391" stroke="#555" stroke-width="0.9"/>
<polygon points="894,962.4 900,966 902,976 895,982 892,990 891,1000 882,1005 878,1011 870,1013.6 860,1011 848,1006 846,984 856,977 862,969 876,966" fill="#FFFACA" stroke="#555" stroke-width="0.9"/>
<g fill="none" stroke="#555" stroke-width="1.1" stroke-linecap="butt">
<polyline points="1102.7,991.3 1090.1,1017.5"/>
<polyline points="1081.3,1066.8 1081.3,1094.8"/>
<polyline points="1079.5,1170 1074.7,1187.3 1069.3,1198.5"/>
<polyline points="1018.1,1273.2 1001.3,1294.5"/>
<polyline points="861.9,1063.3 869.9,1075.3 874.1,1090"/>
<polyline points="884.8,1164.1 884,1179.3 879.5,1190"/>
<polyline points="838.1,1296.7 837.3,1310 840,1323.3"/>
<polyline points="917,1390 930,1387 943,1381.4"/>
<polyline points="1164.7,849.3 1158,878.7"/>
<polyline points="1145.3,923.3 1128,946.7"/>
</g>
<g fill="#555">
<circle cx="912" cy="1040.7" r="0.9"/>
<circle cx="928.8" cy="1044.7" r="0.9"/>
<circle cx="914.7" cy="1056.1" r="0.9"/>
<circle cx="916" cy="1063.3" r="0.9"/>
<circle cx="923.5" cy="1059.9" r="0.9"/>
<circle cx="935.5" cy="1056.7" r="0.9"/>
<circle cx="934.7" cy="1067.3" r="0.9"/>
<circle cx="918.7" cy="1066.5" r="0.9"/>
<circle cx="928" cy="1075.3" r="0.9"/>
<circle cx="965.3" cy="1082" r="0.9"/>
<circle cx="970.7" cy="1068.7" r="0.9"/>
<circle cx="977.3" cy="1066.8" r="0.9"/>
<circle cx="985.3" cy="1064.7" r="0.9"/>
<circle cx="988" cy="1067.3" r="0.9"/>
<circle cx="980" cy="1078" r="0.9"/>
<circle cx="1028.8" cy="1059.9" r="0.9"/>
<circle cx="1052" cy="1090" r="0.9"/>
<circle cx="999.2" cy="1120.7" r="0.9"/>
<circle cx="945.3" cy="979.3" r="0.9"/>
<circle cx="964.3" cy="987.3" r="0.9"/>
<circle cx="982.7" cy="1184.1" r="0.9"/>
<circle cx="1028.8" cy="1184.1" r="0.9"/>
<circle cx="984" cy="1194" r="0.9"/>
<circle cx="979.2" cy="1200.7" r="0.9"/>
<circle cx="988.8" cy="1199.3" r="0.9"/>
<circle cx="970.1" cy="1198" r="0.9"/>
<circle cx="1041.3" cy="1195.3" r="0.9"/>
<circle cx="1042.7" cy="1203.3" r="0.9"/>
<circle cx="1052" cy="1200.7" r="0.9"/>
<circle cx="1008" cy="1209.2" r="0.9"/>
<circle cx="1025.3" cy="1212.7" r="0.9"/>
<circle cx="1041.3" cy="1214" r="0.9"/>
<circle cx="958.7" cy="1215.3" r="0.9"/>
<circle cx="964.5" cy="1219.9" r="0.9"/>
<circle cx="974.7" cy="1214.5" r="0.9"/>
<circle cx="984" cy="1212.7" r="0.9"/>
<circle cx="997.3" cy="1216.7" r="0.9"/>
<circle cx="1002.7" cy="1224.1" r="0.9"/>
<circle cx="1009.3" cy="1228.7" r="0.9"/>
<circle cx="1013.3" cy="1219.3" r="0.9"/>
<circle cx="1024" cy="1227.3" r="0.9"/>
<circle cx="982.7" cy="1222.5" r="0.9"/>
<circle cx="983.5" cy="1229.2" r="0.9"/>
<circle cx="934.7" cy="1233.5" r="0.9"/>
<circle cx="972" cy="1237.5" r="0.9"/>
<circle cx="1000" cy="1237.5" r="0.9"/>
<circle cx="1011.5" cy="1239.3" r="0.9"/>
<circle cx="1022.7" cy="1243.3" r="0.9"/>
<circle cx="1029.3" cy="1245.5" r="0.9"/>
<circle cx="960" cy="1247.3" r="0.9"/>
<circle cx="966.7" cy="1251.3" r="0.9"/>
<circle cx="973.3" cy="1253.2" r="0.9"/>
<circle cx="982.1" cy="1250.5" r="0.9"/>
<circle cx="1019.5" cy="1250.5" r="0.9"/>
<circle cx="928" cy="1250.5" r="0.9"/>
<circle cx="936" cy="1251.3" r="0.9"/>
<circle cx="942.1" cy="1250" r="0.9"/>
<circle cx="910.7" cy="1258.5" r="0.9"/>
<circle cx="916" cy="1256.1" r="0.9"/>
<circle cx="944" cy="1261.5" r="0.9"/>
<circle cx="996" cy="1262" r="0.9"/>
<circle cx="1002.1" cy="1260.1" r="0.9"/>
<circle cx="952" cy="1268.1" r="0.9"/>
<circle cx="982.7" cy="1268.7" r="0.9"/>
<circle cx="988" cy="1273.5" r="0.9"/>
<circle cx="966.7" cy="1273.5" r="0.9"/>
<circle cx="890.1" cy="1269.5" r="0.9"/>
<circle cx="878.1" cy="1275.9" r="0.9"/>
<circle cx="888.8" cy="1277.5" r="0.9"/>
<circle cx="922.1" cy="1270.8" r="0.9"/>
<circle cx="914.1" cy="1276.1" r="0.9"/>
<circle cx="914.7" cy="1282" r="0.9"/>
<circle cx="943.2" cy="1276.7" r="0.9"/>
<circle cx="962.7" cy="1283.3" r="0.9"/>
<circle cx="982.7" cy="1282.8" r="0.9"/>
<circle cx="989.9" cy="1286" r="0.9"/>
<circle cx="963.5" cy="1288.7" r="0.9"/>
<circle cx="986.7" cy="1292.7" r="0.9"/>
<circle cx="958.7" cy="1299.9" r="0.9"/>
<circle cx="950.1" cy="1315.9" r="0.9"/>
<circle cx="923" cy="1378" r="0.9"/>
<circle cx="928.6" cy="1377.4" r="0.9"/>
<circle cx="935" cy="1325" r="0.9"/>
<circle cx="935" cy="1331" r="0.9"/>
<circle cx="931" cy="1333.4" r="0.9"/>
<circle cx="936" cy="1337" r="0.9"/>
<circle cx="937.6" cy="1339.6" r="0.9"/>
<circle cx="937" cy="1347" r="0.9"/>
<circle cx="944" cy="1349" r="0.9"/>
<circle cx="1180" cy="820" r="0.9"/>
<circle cx="1185.3" cy="814.7" r="0.9"/>
<circle cx="1204.7" cy="814.7" r="0.9"/>
<circle cx="1092.7" cy="874.7" r="0.9"/>
<circle cx="1090" cy="884.7" r="0.9"/>
<circle cx="1136" cy="898.7" r="0.9"/>
<circle cx="1137.3" cy="914.7" r="0.9"/>
<circle cx="1110.7" cy="906.7" r="0.9"/>
<circle cx="1148.7" cy="822.7" r="0.9"/>
<circle cx="1150" cy="826" r="0.9"/>
<circle cx="1156" cy="474.7" r="0.9"/>
<circle cx="1162.7" cy="475.3" r="0.9"/>
<circle cx="1173.3" cy="479.3" r="0.9"/>
<circle cx="1169.3" cy="466.7" r="0.9"/>
<circle cx="1164" cy="480.7" r="0.9"/>
<circle cx="1122.7" cy="497.3" r="0.9"/>
<circle cx="1119.3" cy="502" r="0.9"/>
<circle cx="1117.3" cy="508" r="0.9"/>
<circle cx="1170.7" cy="468.7" r="0.9"/>
<circle cx="1012" cy="939.3" r="0.9"/>
<circle cx="1031.3" cy="948.7" r="0.9"/>
<circle cx="961.3" cy="916" r="0.9"/>
<circle cx="972" cy="915.3" r="0.9"/>
<circle cx="938.7" cy="924" r="0.9"/>
<circle cx="934.7" cy="924.7" r="0.9"/>
<circle cx="1158.7" cy="693.3" r="0.9"/>
<circle cx="1165.3" cy="692.7" r="0.9"/>
<circle cx="1154.7" cy="700" r="0.9"/>
<circle cx="1164" cy="707.3" r="0.9"/>
<circle cx="1144" cy="742" r="0.9"/>
<circle cx="1144.7" cy="750.7" r="0.9"/>
<circle cx="1129.3" cy="772" r="0.9"/>
<circle cx="1126.7" cy="776" r="0.9"/>
<circle cx="1128" cy="761.3" r="0.9"/>
</g>
<polygon points="965.3,1283.3 973.3,1276.7 980.8,1273.2 978.1,1279.3 973.3,1283.3" fill="#FFF0AE" stroke="#777" stroke-width="0.5"/>
<polygon points="865.3,1289.2 870.7,1283.9 876.8,1285.2 872,1286.5 867.2,1290.8" fill="#FFF0AE" stroke="#777" stroke-width="0.5"/>
<polygon points="1145.3,708 1153.3,707.3 1155.3,711.3 1156.7,714.7 1152,718 1148,713.3" fill="#E1640E" stroke="#666" stroke-width="0.8"/>
<polygon points="1146,702.4 1153.3,702.7 1156,704.7 1148,704.7" fill="#777" stroke="#666" stroke-width="0.5"/>
<rect x="72" y="881" width="42" height="42.5" fill="#FFFFE5"/>
<rect x="72" y="923" width="42" height="42.5" fill="#FFFACA"/>
<rect x="72" y="965" width="42" height="42.5" fill="#FFF0AE"/>
<rect x="72" y="1007" width="42" height="42.5" fill="#FEE391"/>
<rect x="72" y="1049" width="42" height="42.5" fill="#FECE65"/>
<rect x="72" y="1091" width="42" height="42.5" fill="#FEB642"/>
<rect x="72" y="1133" width="42" height="42.5" fill="#FE9929"/>
<rect x="72" y="1175" width="42" height="42.5" fill="#F27E1B"/>
<rect x="72" y="1217" width="42" height="42.5" fill="#E1640E"/>
<rect x="72" y="1259" width="42" height="42.5" fill="#CC4C02"/>
<rect x="72" y="1301" width="42" height="42.5" fill="#AA3C03"/>
<rect x="72" y="1343" width="42" height="42.5" fill="#882F05"/>
<rect x="72" y="1385" width="42" height="42.5" fill="#662506"/>
<rect x="31" y="31" width="1438" height="1438" fill="none" stroke="#000" stroke-width="2"/>
</svg>
<div class="t" id="title" style="left:62px;top:78.4px;font-size:65.4px;transform:scaleY(1.06);transform-origin:0 82%;">C-F3555</div>
<div class="t cj" id="lt" style="left:68px;top:816px;font-size:44px;">相对占比</div>
<div class="t lab" style="left:124.5px;top:886.6px;font-size:34px;letter-spacing:0.33px;transform:scaleY(1.06);transform-origin:0 82%;">0.108% - 0.390%</div>
<div class="t lab" style="left:124.5px;top:928.6px;font-size:34px;letter-spacing:0.33px;transform:scaleY(1.06);transform-origin:0 82%;">0.390% - 0.609%</div>
<div class="t lab" style="left:124.5px;top:970.6px;font-size:34px;letter-spacing:0.33px;transform:scaleY(1.06);transform-origin:0 82%;">0.609% - 0.794%</div>
<div class="t lab" style="left:124.5px;top:1012.6px;font-size:34px;letter-spacing:0.33px;transform:scaleY(1.06);transform-origin:0 82%;">0.794% - 0.976%</div>
<div class="t lab" style="left:124.5px;top:1054.6px;font-size:34px;letter-spacing:0.33px;transform:scaleY(1.06);transform-origin:0 82%;">0.976% - 1.152%</div>
<div class="t lab" style="left:124.5px;top:1096.6px;font-size:34px;letter-spacing:0.33px;transform:scaleY(1.06);transform-origin:0 82%;">1.152% - 1.351%</div>
<div class="t lab" style="left:124.5px;top:1138.6px;font-size:34px;letter-spacing:0.33px;transform:scaleY(1.06);transform-origin:0 82%;">1.351% - 1.576%</div>
<div class="t lab" style="left:124.5px;top:1180.6px;font-size:34px;letter-spacing:0.33px;transform:scaleY(1.06);transform-origin:0 82%;">1.576% - 1.835%</div>
<div class="t lab" style="left:124.5px;top:1222.6px;font-size:34px;letter-spacing:0.33px;transform:scaleY(1.06);transform-origin:0 82%;">1.835% - 2.240%</div>
<div class="t lab" style="left:124.5px;top:1264.6px;font-size:34px;letter-spacing:0.33px;transform:scaleY(1.06);transform-origin:0 82%;">2.240% - 2.674%</div>
<div class="t lab" style="left:124.5px;top:1306.6px;font-size:34px;letter-spacing:0.33px;transform:scaleY(1.06);transform-origin:0 82%;">2.674% - 3.333%</div>
<div class="t lab" style="left:124.5px;top:1348.6px;font-size:34px;letter-spacing:0.33px;transform:scaleY(1.06);transform-origin:0 82%;">3.333% - 4.673%</div>
<div class="t lab" style="left:124.5px;top:1390.6px;font-size:34px;letter-spacing:0.33px;transform:scaleY(1.06);transform-origin:0 82%;">4.673% - 5.797%</div>
<div class="t" id="credit" style="left:1179.5px;top:1388.5px;font-size:34px;"><span class="cj" style="font-size:36px">作者</span><span style="display:inline-block;transform:scaleY(1.04);transform-origin:0 82%;">:O1a</span><span class="cj" style="font-size:36px">溯源群</span></div>
</body></html>
